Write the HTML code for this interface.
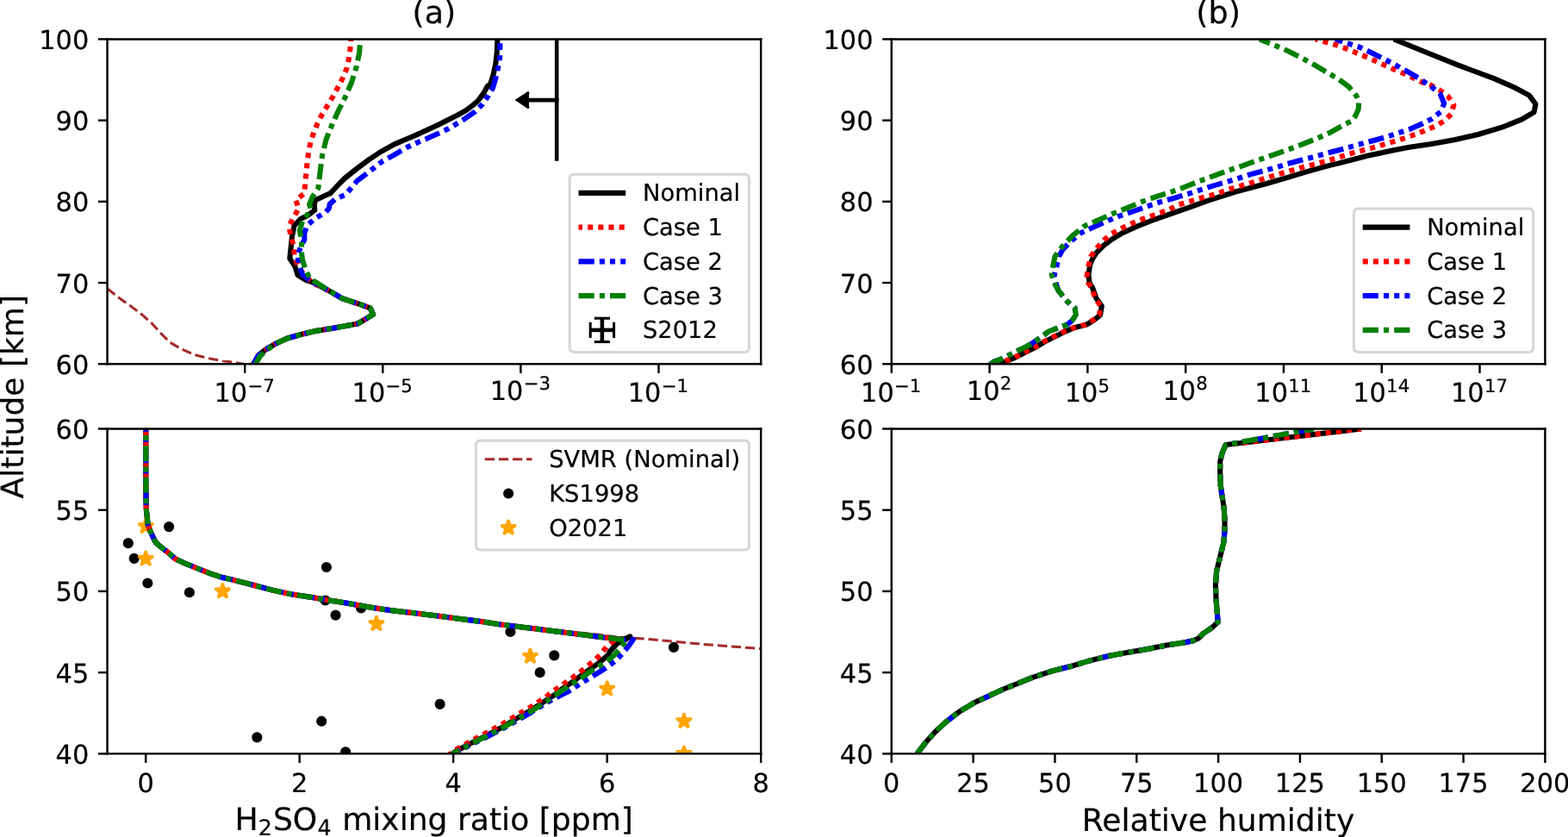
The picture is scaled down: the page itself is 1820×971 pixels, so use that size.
<!DOCTYPE html>
<html><head><meta charset="utf-8"><title>figure</title>
<style>html,body{margin:0;padding:0;background:#fff;overflow:hidden}svg{display:block}
text{font-family:"DejaVu Sans","Liberation Sans",sans-serif;text-rendering:geometricPrecision;stroke:#000;stroke-width:0.07px}</style></head>
<body>
<svg width="1820" height="971" viewBox="0 0 598.684211 319.407895" version="1.1">
 
 <defs>
  <style type="text/css">*{stroke-linejoin: round; stroke-linecap: butt}</style>
 </defs>
 <g id="figure_1">
  <g id="patch_1">
   <path d="M 0 319.407895 
L 598.684211 319.407895 
L 598.684211 0 
L 0 0 
z
" style="fill: #ffffff"/>
  </g>
  <g id="axes_1">
   <g id="patch_2">
    <path d="M 40.970395 138.898026 
L 290.526316 138.898026 
L 290.526316 14.950658 
L 40.970395 14.950658 
z
" style="fill: #ffffff"/>
   </g>
   <g id="line2d_1">
    <path d="M 40.953947 110.098684 
L 45.427632 113.651316 
L 49.901316 116.809211 
L 54.375 120.164474 
L 58.092105 123.519737 
L 61.085526 126.875 
L 64.802632 130.592105 
L 69.276316 133.223684 
L 74.506579 135.460526 
L 79.703947 136.743421 
L 84.934211 137.697368 
L 89.407895 138.256579 
L 92.401316 138.815789 
L 95.394737 139.309211 
" clip-path="url(#pc3fd6369af)" style="fill: none; stroke-dasharray: 3.7,1.6; stroke-dashoffset: 0; stroke: #a52a2a"/>
   </g>
   <g id="matplotlib.axis_1">
    <g id="xtick_1">
     <g id="line2d_2">
      
      <g>
       <path d="M 0 0 L 0 3.5" transform="translate(93.486813 138.898026)" style="stroke: #000000; stroke-width: 0.8; stroke: #000000; stroke-width: 0.8"/>
      </g>
     </g>
     <g id="text_1">
      
      <g transform="translate(81.736813 153.496464)">
       <text>
        <tspan x="0" y="-0.064063" style="font-size: 10px; font-family: 'DejaVu Sans', 'Liberation Sans', sans-serif">1</tspan>
        <tspan x="6.362305" y="-0.064063" style="font-size: 10px; font-family: 'DejaVu Sans', 'Liberation Sans', sans-serif">0</tspan>
        <tspan x="12.820312" y="-3.892188" style="font-size: 7px; font-family: 'DejaVu Sans', 'Liberation Sans', sans-serif">−</tspan>
        <tspan x="18.685547" y="-3.892188" style="font-size: 7px; font-family: 'DejaVu Sans', 'Liberation Sans', sans-serif">7</tspan>
       </text>
      </g>
     </g>
    </g>
    <g id="xtick_2">
     <g id="line2d_3">
      <g>
       <path d="M 0 0 L 0 3.5" transform="translate(146.15094 138.898026)" style="stroke: #000000; stroke-width: 0.8; stroke: #000000; stroke-width: 0.8"/>
      </g>
     </g>
     <g id="text_2">
      
      <g transform="translate(134.40094 153.496464)">
       <text>
        <tspan x="0" y="-0.064063" style="font-size: 10px; font-family: 'DejaVu Sans', 'Liberation Sans', sans-serif">1</tspan>
        <tspan x="6.362305" y="-0.064063" style="font-size: 10px; font-family: 'DejaVu Sans', 'Liberation Sans', sans-serif">0</tspan>
        <tspan x="12.820312" y="-3.892188" style="font-size: 7px; font-family: 'DejaVu Sans', 'Liberation Sans', sans-serif">−</tspan>
        <tspan x="18.685547" y="-3.892188" style="font-size: 7px; font-family: 'DejaVu Sans', 'Liberation Sans', sans-serif">5</tspan>
       </text>
      </g>
     </g>
    </g>
    <g id="xtick_3">
     <g id="line2d_4">
      <g>
       <path d="M 0 0 L 0 3.5" transform="translate(198.815067 138.898026)" style="stroke: #000000; stroke-width: 0.8; stroke: #000000; stroke-width: 0.8"/>
      </g>
     </g>
     <g id="text_3">
      
      <g transform="translate(187.065067 153.496464)">
       <text>
        <tspan x="0" y="-0.976562" style="font-size: 10px; font-family: 'DejaVu Sans', 'Liberation Sans', sans-serif">1</tspan>
        <tspan x="6.362305" y="-0.976562" style="font-size: 10px; font-family: 'DejaVu Sans', 'Liberation Sans', sans-serif">0</tspan>
        <tspan x="12.820312" y="-4.804688" style="font-size: 7px; font-family: 'DejaVu Sans', 'Liberation Sans', sans-serif">−</tspan>
        <tspan x="18.685547" y="-4.804688" style="font-size: 7px; font-family: 'DejaVu Sans', 'Liberation Sans', sans-serif">3</tspan>
       </text>
      </g>
     </g>
    </g>
    <g id="xtick_4">
     <g id="line2d_5">
      <g>
       <path d="M 0 0 L 0 3.5" transform="translate(251.479194 138.898026)" style="stroke: #000000; stroke-width: 0.8; stroke: #000000; stroke-width: 0.8"/>
      </g>
     </g>
     <g id="text_4">
      
      <g transform="translate(239.729194 153.496464)">
       <text>
        <tspan x="0" y="-0.064063" style="font-size: 10px; font-family: 'DejaVu Sans', 'Liberation Sans', sans-serif">1</tspan>
        <tspan x="6.362305" y="-0.064063" style="font-size: 10px; font-family: 'DejaVu Sans', 'Liberation Sans', sans-serif">0</tspan>
        <tspan x="12.820312" y="-3.892188" style="font-size: 7px; font-family: 'DejaVu Sans', 'Liberation Sans', sans-serif">−</tspan>
        <tspan x="18.685547" y="-3.892188" style="font-size: 7px; font-family: 'DejaVu Sans', 'Liberation Sans', sans-serif">1</tspan>
       </text>
      </g>
     </g>
    </g>
   </g>
   <g id="matplotlib.axis_2">
    <g id="ytick_1">
     <g id="line2d_6">
      
      <g>
       <path d="M 0 0 L -3.5 0" transform="translate(40.970395 138.898026)" style="stroke: #000000; stroke-width: 0.8; stroke: #000000; stroke-width: 0.8"/>
      </g>
     </g>
     <g id="text_5">
      <text style="font-size: 10px; font-family: 'DejaVu Sans', 'Liberation Sans', sans-serif; text-anchor: end" x="33.970395" y="142.697245" transform="rotate(-0 33.970395 142.697245)">60</text>
     </g>
    </g>
    <g id="ytick_2">
     <g id="line2d_7">
      <g>
       <path d="M 0 0 L -3.5 0" transform="translate(40.970395 107.911184)" style="stroke: #000000; stroke-width: 0.8; stroke: #000000; stroke-width: 0.8"/>
      </g>
     </g>
     <g id="text_6">
      <text style="font-size: 10px; font-family: 'DejaVu Sans', 'Liberation Sans', sans-serif; text-anchor: end" x="33.970395" y="111.710403" transform="rotate(-0 33.970395 111.710403)">70</text>
     </g>
    </g>
    <g id="ytick_3">
     <g id="line2d_8">
      <g>
       <path d="M 0 0 L -3.5 0" transform="translate(40.970395 76.924342)" style="stroke: #000000; stroke-width: 0.8; stroke: #000000; stroke-width: 0.8"/>
      </g>
     </g>
     <g id="text_7">
      <text style="font-size: 10px; font-family: 'DejaVu Sans', 'Liberation Sans', sans-serif; text-anchor: end" x="33.970395" y="80.723561" transform="rotate(-0 33.970395 80.723561)">80</text>
     </g>
    </g>
    <g id="ytick_4">
     <g id="line2d_9">
      <g>
       <path d="M 0 0 L -3.5 0" transform="translate(40.970395 45.9375)" style="stroke: #000000; stroke-width: 0.8; stroke: #000000; stroke-width: 0.8"/>
      </g>
     </g>
     <g id="text_8">
      <text style="font-size: 10px; font-family: 'DejaVu Sans', 'Liberation Sans', sans-serif; text-anchor: end" x="33.970395" y="49.736719" transform="rotate(-0 33.970395 49.736719)">90</text>
     </g>
    </g>
    <g id="ytick_5">
     <g id="line2d_10">
      <g>
       <path d="M 0 0 L -3.5 0" transform="translate(40.970395 14.950658)" style="stroke: #000000; stroke-width: 0.8; stroke: #000000; stroke-width: 0.8"/>
      </g>
     </g>
     <g id="text_9">
      <text style="font-size: 10px; font-family: 'DejaVu Sans', 'Liberation Sans', sans-serif; text-anchor: end" x="33.970395" y="18.749877" transform="rotate(-0 33.970395 18.749877)">100</text>
     </g>
    </g>
   </g>
   <g id="line2d_11">
    <path d="M 96.546053 139.473684 
L 96.842105 138.782895 
L 98.519737 135.822368 
L 101.118421 133.585526 
L 104.835526 131.348684 
L 109.671053 129.111842 
L 114.901316 127.631579 
L 120.493421 126.315789 
L 126.085526 125.394737 
L 131.677632 124.440789 
L 136.513158 123.519737 
L 139.111842 122.039474 
L 142.467105 119.967105 
L 141.348684 117.565789 
L 137.269737 116.085526 
L 130.559211 113.848684 
L 126.085526 111.217105 
L 119.736842 107.861842 
L 116.480263 106.743421 
L 113.684211 104.967105 
L 112.664474 101.677632 
L 110.625 98.618421 
L 111.118421 94.046053 
L 111.513158 90.230263 
L 112.335526 86.184211 
L 114.736842 83.585526 
L 117.467105 82.236842 
L 120.164474 80.197368 
L 120 77.828947 
L 120.493421 76.315789 
L 126.085526 73.782895 
L 128.980263 70.723684 
L 131.578947 68.092105 
L 136.315789 64.309211 
L 141.052632 60.756579 
L 145.822368 57.664474 
L 150.559211 55.065789 
L 155.296053 53.026316 
L 160.032895 51.019737 
L 163.815789 49.243421 
L 167.368421 47.598684 
L 170.953947 45.822368 
L 174.506579 44.046053 
L 178.059211 42.039474 
L 180.427632 40.263158 
L 182.796053 38.125 
L 184.703947 35.493421 
L 186.118421 32.894737 
L 187.203947 32.105263 
L 188.388158 28.388158 
L 189.243421 24.342105 
L 189.736842 19.934211 
L 189.934211 15.197368 
L 189.934211 14.473684 
" clip-path="url(#pc3fd6369af)" style="fill: none; stroke: #000000; stroke-width: 2"/>
   </g>
   <g id="line2d_12">
    <path d="M 96.546053 139.473684 
L 96.842105 138.782895 
L 98.519737 135.822368 
L 101.118421 133.585526 
L 104.835526 131.348684 
L 109.671053 129.111842 
L 114.901316 127.631579 
L 120.493421 126.315789 
L 126.085526 125.394737 
L 131.677632 124.440789 
L 136.513158 123.519737 
L 139.111842 122.039474 
L 142.467105 119.967105 
L 141.348684 117.565789 
L 137.269737 116.085526 
L 130.559211 113.848684 
L 126.085526 111.217105 
L 119.013158 107.763158 
L 115.197368 103.684211 
L 113.684211 101.151316 
L 112.401316 97.993421 
L 112.138158 93.782895 
L 111.019737 90.098684 
L 110.361842 86.184211 
L 112.203947 82.763158 
L 114.078947 79.539474 
L 112.894737 76.315789 
L 116.085526 73.947368 
L 116.513158 70.394737 
L 116.940789 65.789474 
L 117.302632 61.940789 
L 117.828947 58.157895 
L 118.552632 54.342105 
L 119.802632 50.559211 
L 121.25 47.039474 
L 123.026316 43.519737 
L 125.065789 40.263158 
L 127.039474 37.006579 
L 128.947368 33.486842 
L 130.756579 29.967105 
L 132.368421 26.184211 
L 133.190789 22.368421 
L 133.717105 18.585526 
L 133.980263 15.065789 
L 133.980263 14.473684 
" clip-path="url(#pc3fd6369af)" style="fill: none; stroke-dasharray: 2,2; stroke-dashoffset: 0.5; stroke: #ff0000; stroke-width: 2"/>
   </g>
   <g id="line2d_13">
    <path d="M 96.546053 139.473684 
L 96.842105 138.782895 
L 98.519737 135.822368 
L 101.118421 133.585526 
L 104.835526 131.348684 
L 109.671053 129.111842 
L 114.901316 127.631579 
L 120.493421 126.315789 
L 126.085526 125.394737 
L 131.677632 124.440789 
L 136.513158 123.519737 
L 139.111842 122.039474 
L 142.467105 119.967105 
L 141.348684 117.565789 
L 137.269737 116.085526 
L 130.559211 113.848684 
L 126.085526 111.217105 
L 119.736842 107.861842 
L 117.993421 106.743421 
L 115.460526 104.703947 
L 113.914474 100.657895 
L 113.684211 97.105263 
L 115.065789 93.519737 
L 116.217105 91.513158 
L 116.217105 88.947368 
L 117.467105 85.789474 
L 120.328947 83.421053 
L 124.407895 80.888158 
L 125.592105 79.539474 
L 125.921053 77.828947 
L 128.289474 75.789474 
L 132.006579 74.276316 
L 136.315789 69.046053 
L 141.052632 65.493421 
L 145.822368 61.677632 
L 150.559211 59.078947 
L 155.296053 56.25 
L 160.032895 54.111842 
L 162.631579 53.059211 
L 167.861842 50.690789 
L 171.414474 49.013158 
L 176.875 45.690789 
L 181.381579 42.631579 
L 184.210526 39.769737 
L 186.348684 36.677632 
L 188.256579 33.355263 
L 189.407895 29.243421 
L 190.263158 25.361842 
L 190.855263 21.611842 
L 190.921053 16.546053 
" clip-path="url(#pc3fd6369af)" style="fill: none; stroke-dasharray: 6,2,2,2,2,2; stroke-dashoffset: 0; stroke: #0000ff; stroke-width: 2"/>
   </g>
   <g id="line2d_14">
    <path d="M 97.368421 139.473684 
L 97.664474 138.782895 
L 99.342105 135.822368 
L 101.940789 133.585526 
L 104.835526 131.348684 
L 109.671053 129.111842 
L 114.901316 127.631579 
L 120.493421 126.315789 
L 126.085526 125.394737 
L 131.677632 124.440789 
L 136.513158 123.519737 
L 139.111842 122.039474 
L 142.467105 119.967105 
L 141.348684 117.565789 
L 137.269737 116.085526 
L 130.559211 113.848684 
L 126.085526 111.217105 
L 118.256579 106.25 
L 116.578947 102.664474 
L 115.460526 99.111842 
L 115.065789 95.822368 
L 115.197368 92.006579 
L 114.440789 87.960526 
L 115.460526 84.539474 
L 117.467105 81.743421 
L 118.651316 79.703947 
L 118.125 77.993421 
L 119.309211 75.131579 
L 121.513158 71.743421 
L 121.842105 69.078947 
L 122.335526 64.671053 
L 123.059211 59.243421 
L 124.506579 53.289474 
L 126.677632 47.861842 
L 129.111842 42.434211 
L 131.842105 37.006579 
L 134.276316 31.315789 
L 136.052632 25.625 
L 137.236842 19.934211 
L 137.5 15.328947 
L 137.5 14.473684 
" clip-path="url(#pc3fd6369af)" style="fill: none; stroke-dasharray: 6,2,2,2; stroke-dashoffset: 0; stroke: #008000; stroke-width: 2"/>
   </g>
   <g id="line2d_15">
    <path d="M 212.565789 61.430921 
L 212.565789 11.851974 
" clip-path="url(#pc3fd6369af)" style="fill: none; stroke: #000000; stroke-width: 1.5"/>
   </g>
   <g id="line2d_16">
    <path d="M 201.973684 38.190789 
L 212.565789 38.190789 
" clip-path="url(#pc3fd6369af)" style="fill: none; stroke: #000000; stroke-width: 1.5; stroke-linecap: square"/>
   </g>
   <g id="line2d_17">
    
    <g clip-path="url(#pc3fd6369af)">
     <path d="M 0 -3 L -4.5 -0 L -0 3" transform="translate(201.973684 38.190789)" style="stroke: #000000; stroke-linejoin: miter; stroke: #000000; stroke-linejoin: miter"/>
    </g>
   </g>
   <g id="LineCollection_1">
    <path clip-path="url(#pc3fd6369af)" style="fill: none; stroke: #000000; stroke-width: 1.5"/>
   </g>
   <g id="LineCollection_2">
    <path clip-path="url(#pc3fd6369af)" style="fill: none; stroke: #000000; stroke-width: 1.5"/>
   </g>
   <g id="line2d_18">
    
    <g clip-path="url(#pc3fd6369af)"/>
   </g>
   <g id="line2d_19">
    <g clip-path="url(#pc3fd6369af)"/>
   </g>
   <g id="line2d_20">
    
    <g clip-path="url(#pc3fd6369af)"/>
   </g>
   <g id="line2d_21">
    <g clip-path="url(#pc3fd6369af)"/>
   </g>
   <g id="patch_3">
    <path d="M 40.970395 138.898026 
L 40.970395 14.950658 
" style="fill: none; stroke: #000000; stroke-width: 0.8; stroke-linejoin: miter; stroke-linecap: square"/>
   </g>
   <g id="patch_4">
    <path d="M 290.526316 138.898026 
L 290.526316 14.950658 
" style="fill: none; stroke: #000000; stroke-width: 0.8; stroke-linejoin: miter; stroke-linecap: square"/>
   </g>
   <g id="patch_5">
    <path d="M 40.970395 138.898026 
L 290.526316 138.898026 
" style="fill: none; stroke: #000000; stroke-width: 0.8; stroke-linejoin: miter; stroke-linecap: square"/>
   </g>
   <g id="patch_6">
    <path d="M 40.970395 14.950658 
L 290.526316 14.950658 
" style="fill: none; stroke: #000000; stroke-width: 0.8; stroke-linejoin: miter; stroke-linecap: square"/>
   </g>
   <g id="text_10">
    <text style="font-size: 12px; font-family: 'DejaVu Sans', 'Liberation Sans', sans-serif; text-anchor: middle" x="165.748355" y="8.950658" transform="rotate(-0 165.748355 8.950658)">(a)</text>
   </g>
   <g id="legend_1">
    <g id="patch_7">
     <path d="M 219.280066 134.398026 
L 284.226316 134.398026 
Q 286.026316 134.398026 286.026316 132.598026 
L 286.026316 68.346464 
Q 286.026316 66.546464 284.226316 66.546464 
L 219.280066 66.546464 
Q 217.480066 66.546464 217.480066 68.346464 
L 217.480066 132.598026 
Q 217.480066 134.398026 219.280066 134.398026 
z
" style="fill: #ffffff; opacity: 0.8; stroke: #cccccc; stroke-linejoin: miter"/>
    </g>
    <g id="line2d_22">
     <path d="M 220.900066 73.655058 
L 229.900066 73.655058 
L 238.900066 73.655058 
" style="fill: none; stroke: #000000; stroke-width: 2"/>
    </g>
    <g id="text_11">
     <text style="font-size: 9px; font-family: 'DejaVu Sans', 'Liberation Sans', sans-serif; text-anchor: start" x="245.380066" y="76.805058" transform="rotate(-0 245.380066 76.805058)">Nominal</text>
    </g>
    <g id="line2d_23">
     <path d="M 220.900066 86.73037 
L 229.900066 86.73037 
L 238.900066 86.73037 
" style="fill: none; stroke-dasharray: 2,2; stroke-dashoffset: 0.5; stroke: #ff0000; stroke-width: 2"/>
    </g>
    <g id="text_12">
     <text style="font-size: 9px; font-family: 'DejaVu Sans', 'Liberation Sans', sans-serif; text-anchor: start" x="245.380066" y="89.88037" transform="rotate(-0 245.380066 89.88037)">Case 1</text>
    </g>
    <g id="line2d_24">
     <path d="M 220.900066 99.805683 
L 229.900066 99.805683 
L 238.900066 99.805683 
" style="fill: none; stroke-dasharray: 6,2,2,2,2,2; stroke-dashoffset: 0; stroke: #0000ff; stroke-width: 2"/>
    </g>
    <g id="text_13">
     <text style="font-size: 9px; font-family: 'DejaVu Sans', 'Liberation Sans', sans-serif; text-anchor: start" x="245.380066" y="102.955683" transform="rotate(-0 245.380066 102.955683)">Case 2</text>
    </g>
    <g id="line2d_25">
     <path d="M 220.900066 112.880995 
L 229.900066 112.880995 
L 238.900066 112.880995 
" style="fill: none; stroke-dasharray: 6,2,2,2; stroke-dashoffset: 0; stroke: #008000; stroke-width: 2"/>
    </g>
    <g id="text_14">
     <text style="font-size: 9px; font-family: 'DejaVu Sans', 'Liberation Sans', sans-serif; text-anchor: start" x="245.380066" y="116.030995" transform="rotate(-0 245.380066 116.030995)">Case 3</text>
    </g>
    <g id="LineCollection_3">
     <path d="M 225.400066 125.956308 
L 234.400066 125.956308 
" style="fill: none; stroke: #000000; stroke-width: 1.5"/>
    </g>
    <g id="LineCollection_4">
     <path d="M 229.900066 130.456308 
L 229.900066 121.456308 
" style="fill: none; stroke: #000000; stroke-width: 1.5"/>
    </g>
    <g id="line2d_26">
     <g>
      <path d="M 0 3 L 0 -3" transform="translate(225.400066 125.956308)" style="stroke: #000000; fill: #1f77b4; stroke: #000000"/>
     </g>
    </g>
    <g id="line2d_27">
     <g>
      <path d="M 0 3 L 0 -3" transform="translate(234.400066 125.956308)" style="stroke: #000000; fill: #1f77b4; stroke: #000000"/>
     </g>
    </g>
    <g id="line2d_28">
     <g>
      <path d="M 3 0 L -3 -0" transform="translate(229.900066 130.456308)" style="stroke: #000000; fill: #1f77b4; stroke: #000000"/>
     </g>
    </g>
    <g id="line2d_29">
     <g>
      <path d="M 3 0 L -3 -0" transform="translate(229.900066 121.456308)" style="stroke: #000000; fill: #1f77b4; stroke: #000000"/>
     </g>
    </g>
    <g id="text_15">
     <text style="font-size: 9px; font-family: 'DejaVu Sans', 'Liberation Sans', sans-serif; text-anchor: start" x="245.380066" y="129.106308" transform="rotate(-0 245.380066 129.106308)">S2012</text>
    </g>
   </g>
  </g>
  <g id="axes_2">
   <g id="patch_8">
    <path d="M 340.394737 138.898026 
L 589.934211 138.898026 
L 589.934211 14.950658 
L 340.394737 14.950658 
z
" style="fill: #ffffff"/>
   </g>
   <g id="matplotlib.axis_3">
    <g id="xtick_5">
     <g id="line2d_30">
      <g>
       <path d="M 0 0 L 0 3.5" transform="translate(340.394737 138.898026)" style="stroke: #000000; stroke-width: 0.8; stroke: #000000; stroke-width: 0.8"/>
      </g>
     </g>
     <g id="text_16">
      
      <g transform="translate(328.644737 153.496464)">
       <text>
        <tspan x="0" y="-0.064063" style="font-size: 10px; font-family: 'DejaVu Sans', 'Liberation Sans', sans-serif">1</tspan>
        <tspan x="6.362305" y="-0.064063" style="font-size: 10px; font-family: 'DejaVu Sans', 'Liberation Sans', sans-serif">0</tspan>
        <tspan x="12.820312" y="-3.892188" style="font-size: 7px; font-family: 'DejaVu Sans', 'Liberation Sans', sans-serif">−</tspan>
        <tspan x="18.685547" y="-3.892188" style="font-size: 7px; font-family: 'DejaVu Sans', 'Liberation Sans', sans-serif">1</tspan>
       </text>
      </g>
     </g>
    </g>
    <g id="xtick_6">
     <g id="line2d_31">
      <g>
       <path d="M 0 0 L 0 3.5" transform="translate(377.825658 138.898026)" style="stroke: #000000; stroke-width: 0.8; stroke: #000000; stroke-width: 0.8"/>
      </g>
     </g>
     <g id="text_17">
      
      <g transform="translate(369.025658 153.496464)">
       <text>
        <tspan x="0" y="-0.976562" style="font-size: 10px; font-family: 'DejaVu Sans', 'Liberation Sans', sans-serif">1</tspan>
        <tspan x="6.362305" y="-0.976562" style="font-size: 10px; font-family: 'DejaVu Sans', 'Liberation Sans', sans-serif">0</tspan>
        <tspan x="12.820312" y="-4.804688" style="font-size: 7px; font-family: 'DejaVu Sans', 'Liberation Sans', sans-serif">2</tspan>
       </text>
      </g>
     </g>
    </g>
    <g id="xtick_7">
     <g id="line2d_32">
      <g>
       <path d="M 0 0 L 0 3.5" transform="translate(415.256579 138.898026)" style="stroke: #000000; stroke-width: 0.8; stroke: #000000; stroke-width: 0.8"/>
      </g>
     </g>
     <g id="text_18">
      
      <g transform="translate(406.456579 153.496464)">
       <text>
        <tspan x="0" y="-0.064063" style="font-size: 10px; font-family: 'DejaVu Sans', 'Liberation Sans', sans-serif">1</tspan>
        <tspan x="6.362305" y="-0.064063" style="font-size: 10px; font-family: 'DejaVu Sans', 'Liberation Sans', sans-serif">0</tspan>
        <tspan x="12.820312" y="-3.892188" style="font-size: 7px; font-family: 'DejaVu Sans', 'Liberation Sans', sans-serif">5</tspan>
       </text>
      </g>
     </g>
    </g>
    <g id="xtick_8">
     <g id="line2d_33">
      <g>
       <path d="M 0 0 L 0 3.5" transform="translate(452.6875 138.898026)" style="stroke: #000000; stroke-width: 0.8; stroke: #000000; stroke-width: 0.8"/>
      </g>
     </g>
     <g id="text_19">
      
      <g transform="translate(443.8875 153.496464)">
       <text>
        <tspan x="0" y="-0.976562" style="font-size: 10px; font-family: 'DejaVu Sans', 'Liberation Sans', sans-serif">1</tspan>
        <tspan x="6.362305" y="-0.976562" style="font-size: 10px; font-family: 'DejaVu Sans', 'Liberation Sans', sans-serif">0</tspan>
        <tspan x="12.820312" y="-4.804688" style="font-size: 7px; font-family: 'DejaVu Sans', 'Liberation Sans', sans-serif">8</tspan>
       </text>
      </g>
     </g>
    </g>
    <g id="xtick_9">
     <g id="line2d_34">
      <g>
       <path d="M 0 0 L 0 3.5" transform="translate(490.118421 138.898026)" style="stroke: #000000; stroke-width: 0.8; stroke: #000000; stroke-width: 0.8"/>
      </g>
     </g>
     <g id="text_20">
      
      <g transform="translate(479.068421 153.496464)">
       <text>
        <tspan x="0" y="-0.064063" style="font-size: 10px; font-family: 'DejaVu Sans', 'Liberation Sans', sans-serif">1</tspan>
        <tspan x="6.362305" y="-0.064063" style="font-size: 10px; font-family: 'DejaVu Sans', 'Liberation Sans', sans-serif">0</tspan>
        <tspan x="12.820312" y="-3.892188" style="font-size: 7px; font-family: 'DejaVu Sans', 'Liberation Sans', sans-serif">1</tspan>
        <tspan x="17.273926" y="-3.892188" style="font-size: 7px; font-family: 'DejaVu Sans', 'Liberation Sans', sans-serif">1</tspan>
       </text>
      </g>
     </g>
    </g>
    <g id="xtick_10">
     <g id="line2d_35">
      <g>
       <path d="M 0 0 L 0 3.5" transform="translate(527.549342 138.898026)" style="stroke: #000000; stroke-width: 0.8; stroke: #000000; stroke-width: 0.8"/>
      </g>
     </g>
     <g id="text_21">
      
      <g transform="translate(516.499342 153.496464)">
       <text>
        <tspan x="0" y="-0.064063" style="font-size: 10px; font-family: 'DejaVu Sans', 'Liberation Sans', sans-serif">1</tspan>
        <tspan x="6.362305" y="-0.064063" style="font-size: 10px; font-family: 'DejaVu Sans', 'Liberation Sans', sans-serif">0</tspan>
        <tspan x="12.820312" y="-3.892188" style="font-size: 7px; font-family: 'DejaVu Sans', 'Liberation Sans', sans-serif">1</tspan>
        <tspan x="17.273926" y="-3.892188" style="font-size: 7px; font-family: 'DejaVu Sans', 'Liberation Sans', sans-serif">4</tspan>
       </text>
      </g>
     </g>
    </g>
    <g id="xtick_11">
     <g id="line2d_36">
      <g>
       <path d="M 0 0 L 0 3.5" transform="translate(564.980263 138.898026)" style="stroke: #000000; stroke-width: 0.8; stroke: #000000; stroke-width: 0.8"/>
      </g>
     </g>
     <g id="text_22">
      
      <g transform="translate(553.930263 153.496464)">
       <text>
        <tspan x="0" y="-0.064063" style="font-size: 10px; font-family: 'DejaVu Sans', 'Liberation Sans', sans-serif">1</tspan>
        <tspan x="6.362305" y="-0.064063" style="font-size: 10px; font-family: 'DejaVu Sans', 'Liberation Sans', sans-serif">0</tspan>
        <tspan x="12.820312" y="-3.892188" style="font-size: 7px; font-family: 'DejaVu Sans', 'Liberation Sans', sans-serif">1</tspan>
        <tspan x="17.273926" y="-3.892188" style="font-size: 7px; font-family: 'DejaVu Sans', 'Liberation Sans', sans-serif">7</tspan>
       </text>
      </g>
     </g>
    </g>
   </g>
   <g id="matplotlib.axis_4">
    <g id="ytick_6">
     <g id="line2d_37">
      <g>
       <path d="M 0 0 L -3.5 0" transform="translate(340.394737 138.898026)" style="stroke: #000000; stroke-width: 0.8; stroke: #000000; stroke-width: 0.8"/>
      </g>
     </g>
     <g id="text_23">
      <text style="font-size: 10px; font-family: 'DejaVu Sans', 'Liberation Sans', sans-serif; text-anchor: end" x="333.394737" y="142.697245" transform="rotate(-0 333.394737 142.697245)">60</text>
     </g>
    </g>
    <g id="ytick_7">
     <g id="line2d_38">
      <g>
       <path d="M 0 0 L -3.5 0" transform="translate(340.394737 107.911184)" style="stroke: #000000; stroke-width: 0.8; stroke: #000000; stroke-width: 0.8"/>
      </g>
     </g>
     <g id="text_24">
      <text style="font-size: 10px; font-family: 'DejaVu Sans', 'Liberation Sans', sans-serif; text-anchor: end" x="333.394737" y="111.710403" transform="rotate(-0 333.394737 111.710403)">70</text>
     </g>
    </g>
    <g id="ytick_8">
     <g id="line2d_39">
      <g>
       <path d="M 0 0 L -3.5 0" transform="translate(340.394737 76.924342)" style="stroke: #000000; stroke-width: 0.8; stroke: #000000; stroke-width: 0.8"/>
      </g>
     </g>
     <g id="text_25">
      <text style="font-size: 10px; font-family: 'DejaVu Sans', 'Liberation Sans', sans-serif; text-anchor: end" x="333.394737" y="80.723561" transform="rotate(-0 333.394737 80.723561)">80</text>
     </g>
    </g>
    <g id="ytick_9">
     <g id="line2d_40">
      <g>
       <path d="M 0 0 L -3.5 0" transform="translate(340.394737 45.9375)" style="stroke: #000000; stroke-width: 0.8; stroke: #000000; stroke-width: 0.8"/>
      </g>
     </g>
     <g id="text_26">
      <text style="font-size: 10px; font-family: 'DejaVu Sans', 'Liberation Sans', sans-serif; text-anchor: end" x="333.394737" y="49.736719" transform="rotate(-0 333.394737 49.736719)">90</text>
     </g>
    </g>
    <g id="ytick_10">
     <g id="line2d_41">
      <g>
       <path d="M 0 0 L -3.5 0" transform="translate(340.394737 14.950658)" style="stroke: #000000; stroke-width: 0.8; stroke: #000000; stroke-width: 0.8"/>
      </g>
     </g>
     <g id="text_27">
      <text style="font-size: 10px; font-family: 'DejaVu Sans', 'Liberation Sans', sans-serif; text-anchor: end" x="333.394737" y="18.749877" transform="rotate(-0 333.394737 18.749877)">100</text>
     </g>
    </g>
   </g>
   <g id="line2d_42">
    <path d="M 380.592105 139.473684 
L 381.348684 138.980263 
L 383.585526 138.059211 
L 387.302632 136.578947 
L 391.776316 134.342105 
L 395.493421 132.467105 
L 399.210526 130.230263 
L 402.960526 128.355263 
L 406.677632 126.513158 
L 410.394737 125 
L 414.868421 123.881579 
L 417.861842 122.039474 
L 420.098684 120.164474 
L 420.657895 116.809211 
L 418.585526 113.848684 
L 417.105263 109.736842 
L 415.953947 107.894737 
L 415.592105 104.868421 
L 416.217105 100.888158 
L 417.203947 98.684211 
L 418.585526 96.480263 
L 421.282895 93.75 
L 424.539474 91.315789 
L 428.585526 88.881579 
L 434.013158 86.447368 
L 439.440789 84.276316 
L 444.868421 82.368421 
L 450.263158 80.493421 
L 455.690789 78.585526 
L 460.526316 76.743421 
L 471.710526 73.190789 
L 483.552632 70.065789 
L 491.677632 67.697368 
L 499.802632 65.263158 
L 507.960526 63.026316 
L 510.855263 62.368421 
L 521.710526 59.539474 
L 532.5 57.236842 
L 538.125 56.184211 
L 546.052632 55 
L 555.263158 53.388158 
L 564.342105 51.315789 
L 573.486842 48.585526 
L 581.118421 45.526316 
L 585.690789 42.796053 
L 586.315789 39.736842 
L 583.881579 36.381579 
L 578.059211 33.322368 
L 570.460526 29.967105 
L 561.907895 26.809211 
L 556.578947 24.802632 
L 544.375 19.901316 
L 532.171053 14.950658 
" clip-path="url(#pd792279210)" style="fill: none; stroke: #000000; stroke-width: 2"/>
   </g>
   <g id="line2d_43">
    <path d="M 380.197368 139.473684 
L 380.953947 138.980263 
L 383.190789 138.059211 
L 386.907895 136.578947 
L 391.381579 134.342105 
L 395.098684 132.467105 
L 398.815789 130.230263 
L 402.565789 128.355263 
L 406.282895 126.513158 
L 410 125 
L 414.473684 123.881579 
L 417.467105 122.039474 
L 419.703947 120.164474 
L 420.263158 116.809211 
L 418.190789 113.848684 
L 416.710526 109.736842 
L 415.460526 107.894737 
L 415 105.164474 
L 415.592105 101.513158 
L 416.513158 97.861842 
L 418.848684 94.572368 
L 421.546053 91.578947 
L 424.539474 89.144737 
L 428.059211 87.236842 
L 431.578947 85.493421 
L 435.098684 84.013158 
L 438.914474 82.631579 
L 442.434211 81.414474 
L 446.217105 80.065789 
L 449.934211 78.092105 
L 453.651316 77.072368 
L 457.368421 75.888158 
L 461.118421 74.868421 
L 465 73.848684 
L 468.651316 72.401316 
L 476.25 70.230263 
L 483.815789 67.796053 
L 491.151316 65.625 
L 498.717105 63.453947 
L 502.697368 62.5 
L 510.296053 60.328947 
L 517.763158 57.960526 
L 521.644737 57.039474 
L 525.328947 56.052632 
L 529.243421 54.868421 
L 532.927632 53.782895 
L 536.611842 52.598684 
L 540.296053 51.282895 
L 543.980263 49.868421 
L 547.697368 48.289474 
L 551.25 46.282895 
L 554.078947 43.552632 
L 555.065789 40.032895 
L 552.927632 36.842105 
L 549.506579 34.243421 
L 546.217105 32.434211 
L 542.532895 31.184211 
L 538.881579 29.375 
L 535.526316 27.828947 
L 531.875 26.315789 
L 528.519737 24.802632 
L 524.473684 22.960526 
L 521.315789 21.578947 
L 517.664474 20.065789 
L 513.980263 18.552632 
L 510.197368 17.171053 
L 506.381579 16.118421 
L 502.302632 14.950658 
" clip-path="url(#pd792279210)" style="fill: none; stroke-dasharray: 2,2; stroke-dashoffset: 0; stroke: #ff0000; stroke-width: 2"/>
   </g>
   <g id="line2d_44">
    <path d="M 377.631579 139.473684 
L 378.289474 138.980263 
L 379.473684 138.059211 
L 382.467105 136.940789 
L 386.184211 135.065789 
L 389.901316 133.223684 
L 393.618421 131.348684 
L 397.368421 128.75 
L 400.328947 126.513158 
L 403.322368 125.394737 
L 407.434211 123.881579 
L 409.276316 122.401316 
L 410.789474 120.164474 
L 410.394737 117.565789 
L 407.434211 114.967105 
L 404.078947 110.855263 
L 403.125 107.894737 
L 402.5 105.164474 
L 403.552632 101.217105 
L 404.309211 97.861842 
L 405.855263 95.098684 
L 408.881579 92.072368 
L 412.532895 89.013158 
L 418.421053 86.217105 
L 423.190789 84.144737 
L 426.973684 82.631579 
L 432.401316 80.756579 
L 437.828947 78.848684 
L 441.611842 77.467105 
L 447.236842 75.888158 
L 452.993421 74.177632 
L 456.710526 72.993421 
L 462.302632 71.151316 
L 471.907895 68.355263 
L 477.335526 66.578947 
L 486.809211 64.013158 
L 492.5 62.236842 
L 498.190789 60.756579 
L 501.907895 59.802632 
L 507.861842 58.157895 
L 513.552632 56.677632 
L 517.105263 55.625 
L 522.960526 54.013158 
L 528.585526 52.5 
L 532.269737 51.282895 
L 537.927632 49.440789 
L 543.322368 47.072368 
L 546.875 45.263158 
L 550.098684 42.664474 
L 551.381579 39.473684 
L 549.868421 35.789474 
L 546.809211 33.322368 
L 541.940789 29.967105 
L 536.743421 26.940789 
L 533.388158 25.098684 
L 528.223684 22.368421 
L 522.828947 19.769737 
L 519.342105 18.092105 
L 516.447368 17.171053 
L 509.868421 14.950658 
" clip-path="url(#pd792279210)" style="fill: none; stroke-dasharray: 6,2,2,2,2,2; stroke-dashoffset: 0; stroke: #0000ff; stroke-width: 2"/>
   </g>
   <g id="line2d_45">
    <path d="M 377.631579 139.473684 
L 378.289474 138.980263 
L 379.473684 138.059211 
L 382.467105 136.940789 
L 386.184211 135.065789 
L 389.901316 133.223684 
L 393.618421 131.348684 
L 397.368421 128.75 
L 400.328947 126.513158 
L 403.322368 125.394737 
L 407.434211 123.881579 
L 409.276316 122.401316 
L 410.789474 120.164474 
L 410.394737 117.565789 
L 407.434211 114.967105 
L 404.078947 110.855263 
L 402.5 107.894737 
L 401.578947 104.868421 
L 402.171053 100.888158 
L 402.796053 97.861842 
L 405.526316 94.177632 
L 409.506579 89.934211 
L 414.078947 86.25 
L 419.934211 83.717105 
L 424.802632 81.578947 
L 430.230263 79.407895 
L 435.657895 77.105263 
L 442.467105 74.703947 
L 446.973684 73.322368 
L 452.467105 71.315789 
L 457.894737 69.111842 
L 463.552632 67.072368 
L 468.914474 65.098684 
L 474.605263 63.190789 
L 480.296053 61.151316 
L 485.723684 59.276316 
L 491.414474 57.236842 
L 496.842105 55.197368 
L 502.434211 53.026316 
L 507.861842 50.592105 
L 512.861842 47.730263 
L 516.118421 46.217105 
L 517.532895 44.243421 
L 518.651316 41.644737 
L 518.881579 38.815789 
L 517.960526 36.677632 
L 515.230263 33.322368 
L 510.953947 30.131579 
L 506.052632 27.236842 
L 500.888158 24.177632 
L 495.690789 21.447368 
L 490.197368 18.684211 
L 484.703947 16.546053 
L 480.921053 14.950658 
" clip-path="url(#pd792279210)" style="fill: none; stroke-dasharray: 6,2,2,2; stroke-dashoffset: 0; stroke: #008000; stroke-width: 2"/>
   </g>
   <g id="patch_9">
    <path d="M 340.394737 138.898026 
L 340.394737 14.950658 
" style="fill: none; stroke: #000000; stroke-width: 0.8; stroke-linejoin: miter; stroke-linecap: square"/>
   </g>
   <g id="patch_10">
    <path d="M 589.934211 138.898026 
L 589.934211 14.950658 
" style="fill: none; stroke: #000000; stroke-width: 0.8; stroke-linejoin: miter; stroke-linecap: square"/>
   </g>
   <g id="patch_11">
    <path d="M 340.394737 138.898026 
L 589.934211 138.898026 
" style="fill: none; stroke: #000000; stroke-width: 0.8; stroke-linejoin: miter; stroke-linecap: square"/>
   </g>
   <g id="patch_12">
    <path d="M 340.394737 14.950658 
L 589.934211 14.950658 
" style="fill: none; stroke: #000000; stroke-width: 0.8; stroke-linejoin: miter; stroke-linecap: square"/>
   </g>
   <g id="text_28">
    <text style="font-size: 12px; font-family: 'DejaVu Sans', 'Liberation Sans', sans-serif; text-anchor: middle" x="465.164474" y="8.950658" transform="rotate(-0 465.164474 8.950658)">(b)</text>
   </g>
   <g id="legend_2">
    <g id="patch_13">
     <path d="M 518.687961 134.398026 
L 583.634211 134.398026 
Q 585.434211 134.398026 585.434211 132.598026 
L 585.434211 81.421776 
Q 585.434211 79.621776 583.634211 79.621776 
L 518.687961 79.621776 
Q 516.887961 79.621776 516.887961 81.421776 
L 516.887961 132.598026 
Q 516.887961 134.398026 518.687961 134.398026 
z
" style="fill: #ffffff; opacity: 0.8; stroke: #cccccc; stroke-linejoin: miter"/>
    </g>
    <g id="line2d_46">
     <path d="M 520.307961 86.73037 
L 529.307961 86.73037 
L 538.307961 86.73037 
" style="fill: none; stroke: #000000; stroke-width: 2"/>
    </g>
    <g id="text_29">
     <text style="font-size: 9px; font-family: 'DejaVu Sans', 'Liberation Sans', sans-serif; text-anchor: start" x="544.787961" y="89.88037" transform="rotate(-0 544.787961 89.88037)">Nominal</text>
    </g>
    <g id="line2d_47">
     <path d="M 520.307961 99.805683 
L 529.307961 99.805683 
L 538.307961 99.805683 
" style="fill: none; stroke-dasharray: 2,2; stroke-dashoffset: 0; stroke: #ff0000; stroke-width: 2"/>
    </g>
    <g id="text_30">
     <text style="font-size: 9px; font-family: 'DejaVu Sans', 'Liberation Sans', sans-serif; text-anchor: start" x="544.787961" y="102.955683" transform="rotate(-0 544.787961 102.955683)">Case 1</text>
    </g>
    <g id="line2d_48">
     <path d="M 520.307961 112.880995 
L 529.307961 112.880995 
L 538.307961 112.880995 
" style="fill: none; stroke-dasharray: 6,2,2,2,2,2; stroke-dashoffset: 0; stroke: #0000ff; stroke-width: 2"/>
    </g>
    <g id="text_31">
     <text style="font-size: 9px; font-family: 'DejaVu Sans', 'Liberation Sans', sans-serif; text-anchor: start" x="544.787961" y="116.030995" transform="rotate(-0 544.787961 116.030995)">Case 2</text>
    </g>
    <g id="line2d_49">
     <path d="M 520.307961 125.956308 
L 529.307961 125.956308 
L 538.307961 125.956308 
" style="fill: none; stroke-dasharray: 6,2,2,2; stroke-dashoffset: 0; stroke: #008000; stroke-width: 2"/>
    </g>
    <g id="text_32">
     <text style="font-size: 9px; font-family: 'DejaVu Sans', 'Liberation Sans', sans-serif; text-anchor: start" x="544.787961" y="129.106308" transform="rotate(-0 544.787961 129.106308)">Case 3</text>
    </g>
   </g>
  </g>
  <g id="axes_3">
   <g id="patch_14">
    <path d="M 40.970395 287.631579 
L 290.526316 287.631579 
L 290.526316 163.634868 
L 40.970395 163.634868 
z
" style="fill: #ffffff"/>
   </g>
   <g id="line2d_50">
    <path d="M 55.690789 162.828947 
L 55.690789 182.532895 
L 55.756579 190.789474 
L 55.822368 194.078947 
L 56.151316 197.138158 
L 56.447368 200.164474 
L 57.5 202.927632 
L 58.881579 205.953947 
L 59.638158 207.203947 
L 61.776316 209.013158 
L 64.210526 210.855263 
L 66.973684 213.289474 
L 70.921053 215.131579 
L 75.493421 216.940789 
L 80.065789 218.782895 
L 84.638158 220.296053 
L 88.815789 221.25 
L 96.414474 223.190789 
L 104.013158 225.197368 
L 111.578947 226.842105 
L 119.177632 227.993421 
L 126.776316 229.243421 
L 131.578947 230 
L 140.263158 231.611842 
L 148.914474 232.894737 
L 157.598684 233.914474 
L 166.282895 234.934211 
L 174.967105 236.085526 
L 184.210526 237.236842 
L 190.493421 238.223684 
L 203.388158 239.677112 
L 216.25 240.950485 
L 229.111842 242.236842 
L 234.210526 242.960526 
L 245.361842 243.717105 
L 269.736842 245.953947 
L 291.447368 247.631579 
" clip-path="url(#pb53de90a22)" style="fill: none; stroke-dasharray: 3.7,1.6; stroke-dashoffset: 0; stroke: #a52a2a"/>
   </g>
   <g id="matplotlib.axis_5">
    <g id="xtick_12">
     <g id="line2d_51">
      <g>
       <path d="M 0 0 L 0 3.5" transform="translate(55.650155 287.631579)" style="stroke: #000000; stroke-width: 0.8; stroke: #000000; stroke-width: 0.8"/>
      </g>
     </g>
     <g id="text_33">
      <text style="font-size: 10px; font-family: 'DejaVu Sans', 'Liberation Sans', sans-serif; text-anchor: middle" x="55.650155" y="302.230016" transform="rotate(-0 55.650155 302.230016)">0</text>
     </g>
    </g>
    <g id="xtick_13">
     <g id="line2d_52">
      <g>
       <path d="M 0 0 L 0 3.5" transform="translate(114.369195 287.631579)" style="stroke: #000000; stroke-width: 0.8; stroke: #000000; stroke-width: 0.8"/>
      </g>
     </g>
     <g id="text_34">
      <text style="font-size: 10px; font-family: 'DejaVu Sans', 'Liberation Sans', sans-serif; text-anchor: middle" x="114.369195" y="302.230016" transform="rotate(-0 114.369195 302.230016)">2</text>
     </g>
    </g>
    <g id="xtick_14">
     <g id="line2d_53">
      <g>
       <path d="M 0 0 L 0 3.5" transform="translate(173.088235 287.631579)" style="stroke: #000000; stroke-width: 0.8; stroke: #000000; stroke-width: 0.8"/>
      </g>
     </g>
     <g id="text_35">
      <text style="font-size: 10px; font-family: 'DejaVu Sans', 'Liberation Sans', sans-serif; text-anchor: middle" x="173.088235" y="302.230016" transform="rotate(-0 173.088235 302.230016)">4</text>
     </g>
    </g>
    <g id="xtick_15">
     <g id="line2d_54">
      <g>
       <path d="M 0 0 L 0 3.5" transform="translate(231.807276 287.631579)" style="stroke: #000000; stroke-width: 0.8; stroke: #000000; stroke-width: 0.8"/>
      </g>
     </g>
     <g id="text_36">
      <text style="font-size: 10px; font-family: 'DejaVu Sans', 'Liberation Sans', sans-serif; text-anchor: middle" x="231.807276" y="302.230016" transform="rotate(-0 231.807276 302.230016)">6</text>
     </g>
    </g>
    <g id="xtick_16">
     <g id="line2d_55">
      <g>
       <path d="M 0 0 L 0 3.5" transform="translate(290.526316 287.631579)" style="stroke: #000000; stroke-width: 0.8; stroke: #000000; stroke-width: 0.8"/>
      </g>
     </g>
     <g id="text_37">
      <text style="font-size: 10px; font-family: 'DejaVu Sans', 'Liberation Sans', sans-serif; text-anchor: middle" x="290.526316" y="302.230016" transform="rotate(-0 290.526316 302.230016)">8</text>
     </g>
    </g>
    <g id="text_38">
     
     <g transform="translate(89.597555 317.738504)">
      <text>
       <tspan x="0" y="-0.875" style="font-size: 11.88px; font-family: 'DejaVu Sans', 'Liberation Sans', sans-serif">H</tspan>
       <tspan x="14.661078" y="-0.875" style="font-size: 11.88px; font-family: 'DejaVu Sans', 'Liberation Sans', sans-serif">S</tspan>
       <tspan x="22.19892" y="-0.875" style="font-size: 11.88px; font-family: 'DejaVu Sans', 'Liberation Sans', sans-serif">O</tspan>
       <tspan x="37.277478" y="-0.875" style="font-size: 11.88px; font-family: 'DejaVu Sans', 'Liberation Sans', sans-serif"> </tspan>
       <tspan x="41.052197" y="-0.875" style="font-size: 11.88px; font-family: 'DejaVu Sans', 'Liberation Sans', sans-serif">m</tspan>
       <tspan x="52.619885" y="-0.875" style="font-size: 11.88px; font-family: 'DejaVu Sans', 'Liberation Sans', sans-serif">i</tspan>
       <tspan x="55.919141" y="-0.875" style="font-size: 11.88px; font-family: 'DejaVu Sans', 'Liberation Sans', sans-serif">x</tspan>
       <tspan x="62.946729" y="-0.875" style="font-size: 11.88px; font-family: 'DejaVu Sans', 'Liberation Sans', sans-serif">i</tspan>
       <tspan x="66.245984" y="-0.875" style="font-size: 11.88px; font-family: 'DejaVu Sans', 'Liberation Sans', sans-serif">n</tspan>
       <tspan x="73.772229" y="-0.875" style="font-size: 11.88px; font-family: 'DejaVu Sans', 'Liberation Sans', sans-serif">g</tspan>
       <tspan x="81.310071" y="-0.875" style="font-size: 11.88px; font-family: 'DejaVu Sans', 'Liberation Sans', sans-serif"> </tspan>
       <tspan x="85.08479" y="-0.875" style="font-size: 11.88px; font-family: 'DejaVu Sans', 'Liberation Sans', sans-serif">r</tspan>
       <tspan x="89.966992" y="-0.875" style="font-size: 11.88px; font-family: 'DejaVu Sans', 'Liberation Sans', sans-serif">a</tspan>
       <tspan x="97.243909" y="-0.875" style="font-size: 11.88px; font-family: 'DejaVu Sans', 'Liberation Sans', sans-serif">t</tspan>
       <tspan x="101.899976" y="-0.875" style="font-size: 11.88px; font-family: 'DejaVu Sans', 'Liberation Sans', sans-serif">i</tspan>
       <tspan x="105.199231" y="-0.875" style="font-size: 11.88px; font-family: 'DejaVu Sans', 'Liberation Sans', sans-serif">o</tspan>
       <tspan x="112.464551" y="-0.875" style="font-size: 11.88px; font-family: 'DejaVu Sans', 'Liberation Sans', sans-serif"> </tspan>
       <tspan x="116.23927" y="-0.875" style="font-size: 11.88px; font-family: 'DejaVu Sans', 'Liberation Sans', sans-serif">[</tspan>
       <tspan x="120.872144" y="-0.875" style="font-size: 11.88px; font-family: 'DejaVu Sans', 'Liberation Sans', sans-serif">p</tspan>
       <tspan x="128.409985" y="-0.875" style="font-size: 11.88px; font-family: 'DejaVu Sans', 'Liberation Sans', sans-serif">p</tspan>
       <tspan x="135.947827" y="-0.875" style="font-size: 11.88px; font-family: 'DejaVu Sans', 'Liberation Sans', sans-serif">m</tspan>
       <tspan x="147.515515" y="-0.875" style="font-size: 11.88px; font-family: 'DejaVu Sans', 'Liberation Sans', sans-serif">]</tspan>
       <tspan x="9.044287" y="1.09375" style="font-size: 8.316px; font-family: 'DejaVu Sans', 'Liberation Sans', sans-serif">2</tspan>
       <tspan x="31.660687" y="1.09375" style="font-size: 8.316px; font-family: 'DejaVu Sans', 'Liberation Sans', sans-serif">4</tspan>
      </text>
     </g>
    </g>
   </g>
   <g id="matplotlib.axis_6">
    <g id="ytick_11">
     <g id="line2d_56">
      <g>
       <path d="M 0 0 L -3.5 0" transform="translate(40.970395 287.631579)" style="stroke: #000000; stroke-width: 0.8; stroke: #000000; stroke-width: 0.8"/>
      </g>
     </g>
     <g id="text_39">
      <text style="font-size: 10px; font-family: 'DejaVu Sans', 'Liberation Sans', sans-serif; text-anchor: end" x="33.970395" y="291.430798" transform="rotate(-0 33.970395 291.430798)">40</text>
     </g>
    </g>
    <g id="ytick_12">
     <g id="line2d_57">
      <g>
       <path d="M 0 0 L -3.5 0" transform="translate(40.970395 256.632401)" style="stroke: #000000; stroke-width: 0.8; stroke: #000000; stroke-width: 0.8"/>
      </g>
     </g>
     <g id="text_40">
      <text style="font-size: 10px; font-family: 'DejaVu Sans', 'Liberation Sans', sans-serif; text-anchor: end" x="33.970395" y="260.43162" transform="rotate(-0 33.970395 260.43162)">45</text>
     </g>
    </g>
    <g id="ytick_13">
     <g id="line2d_58">
      <g>
       <path d="M 0 0 L -3.5 0" transform="translate(40.970395 225.633224)" style="stroke: #000000; stroke-width: 0.8; stroke: #000000; stroke-width: 0.8"/>
      </g>
     </g>
     <g id="text_41">
      <text style="font-size: 10px; font-family: 'DejaVu Sans', 'Liberation Sans', sans-serif; text-anchor: end" x="33.970395" y="229.432442" transform="rotate(-0 33.970395 229.432442)">50</text>
     </g>
    </g>
    <g id="ytick_14">
     <g id="line2d_59">
      <g>
       <path d="M 0 0 L -3.5 0" transform="translate(40.970395 194.634046)" style="stroke: #000000; stroke-width: 0.8; stroke: #000000; stroke-width: 0.8"/>
      </g>
     </g>
     <g id="text_42">
      <text style="font-size: 10px; font-family: 'DejaVu Sans', 'Liberation Sans', sans-serif; text-anchor: end" x="33.970395" y="198.433265" transform="rotate(-0 33.970395 198.433265)">55</text>
     </g>
    </g>
    <g id="ytick_15">
     <g id="line2d_60">
      <g>
       <path d="M 0 0 L -3.5 0" transform="translate(40.970395 163.634868)" style="stroke: #000000; stroke-width: 0.8; stroke: #000000; stroke-width: 0.8"/>
      </g>
     </g>
     <g id="text_43">
      <text style="font-size: 10px; font-family: 'DejaVu Sans', 'Liberation Sans', sans-serif; text-anchor: end" x="33.970395" y="167.434087" transform="rotate(-0 33.970395 167.434087)">60</text>
     </g>
    </g>
   </g>
   <g id="line2d_61">
    
    <g clip-path="url(#pb53de90a22)">
     <path d="M 0 1.5 C 0.397805 1.5 0.77937 1.341951 1.06066 1.06066 C 1.341951 0.77937 1.5 0.397805 1.5 0 C 1.5 -0.397805 1.341951 -0.77937 1.06066 -1.06066 C 0.77937 -1.341951 0.397805 -1.5 0 -1.5 C -0.397805 -1.5 -0.77937 -1.341951 -1.06066 -1.06066 C -1.341951 -0.77937 -1.5 -0.397805 -1.5 0 C -1.5 0.397805 -1.341951 0.77937 -1.06066 1.06066 C -0.77937 1.341951 -0.397805 1.5 0 1.5 z" transform="translate(64.507922 201.019877)" style="stroke: #000000; stroke: #000000"/>
     <path d="M 0 1.5 C 0.397805 1.5 0.77937 1.341951 1.06066 1.06066 C 1.341951 0.77937 1.5 0.397805 1.5 0 C 1.5 -0.397805 1.341951 -0.77937 1.06066 -1.06066 C 0.77937 -1.341951 0.397805 -1.5 0 -1.5 C -0.397805 -1.5 -0.77937 -1.341951 -1.06066 -1.06066 C -1.341951 -0.77937 -1.5 -0.397805 -1.5 0 C -1.5 0.397805 -1.341951 0.77937 -1.06066 1.06066 C -0.77937 1.341951 -0.397805 1.5 0 1.5 z" transform="translate(48.956184 207.281711)" style="stroke: #000000; stroke: #000000"/>
     <path d="M 0 1.5 C 0.397805 1.5 0.77937 1.341951 1.06066 1.06066 C 1.341951 0.77937 1.5 0.397805 1.5 0 C 1.5 -0.397805 1.341951 -0.77937 1.06066 -1.06066 C 0.77937 -1.341951 0.397805 -1.5 0 -1.5 C -0.397805 -1.5 -0.77937 -1.341951 -1.06066 -1.06066 C -1.341951 -0.77937 -1.5 -0.397805 -1.5 0 C -1.5 0.397805 -1.341951 0.77937 -1.06066 1.06066 C -0.77937 1.341951 -0.397805 1.5 0 1.5 z" transform="translate(51.216867 213.109556)" style="stroke: #000000; stroke: #000000"/>
     <path d="M 0 1.5 C 0.397805 1.5 0.77937 1.341951 1.06066 1.06066 C 1.341951 0.77937 1.5 0.397805 1.5 0 C 1.5 -0.397805 1.341951 -0.77937 1.06066 -1.06066 C 0.77937 -1.341951 0.397805 -1.5 0 -1.5 C -0.397805 -1.5 -0.77937 -1.341951 -1.06066 -1.06066 C -1.341951 -0.77937 -1.5 -0.397805 -1.5 0 C -1.5 0.397805 -1.341951 0.77937 -1.06066 1.06066 C -0.77937 1.341951 -0.397805 1.5 0 1.5 z" transform="translate(56.354783 222.533306)" style="stroke: #000000; stroke: #000000"/>
     <path d="M 0 1.5 C 0.397805 1.5 0.77937 1.341951 1.06066 1.06066 C 1.341951 0.77937 1.5 0.397805 1.5 0 C 1.5 -0.397805 1.341951 -0.77937 1.06066 -1.06066 C 0.77937 -1.341951 0.397805 -1.5 0 -1.5 C -0.397805 -1.5 -0.77937 -1.341951 -1.06066 -1.06066 C -1.341951 -0.77937 -1.5 -0.397805 -1.5 0 C -1.5 0.397805 -1.341951 0.77937 -1.06066 1.06066 C -0.77937 1.341951 -0.397805 1.5 0 1.5 z" transform="translate(72.326362 226.067212)" style="stroke: #000000; stroke: #000000"/>
     <path d="M 0 1.5 C 0.397805 1.5 0.77937 1.341951 1.06066 1.06066 C 1.341951 0.77937 1.5 0.397805 1.5 0 C 1.5 -0.397805 1.341951 -0.77937 1.06066 -1.06066 C 0.77937 -1.341951 0.397805 -1.5 0 -1.5 C -0.397805 -1.5 -0.77937 -1.341951 -1.06066 -1.06066 C -1.341951 -0.77937 -1.5 -0.397805 -1.5 0 C -1.5 0.397805 -1.341951 0.77937 -1.06066 1.06066 C -0.77937 1.341951 -0.397805 1.5 0 1.5 z" transform="translate(124.645027 216.457467)" style="stroke: #000000; stroke: #000000"/>
     <path d="M 0 1.5 C 0.397805 1.5 0.77937 1.341951 1.06066 1.06066 C 1.341951 0.77937 1.5 0.397805 1.5 0 C 1.5 -0.397805 1.341951 -0.77937 1.06066 -1.06066 C 0.77937 -1.341951 0.397805 -1.5 0 -1.5 C -0.397805 -1.5 -0.77937 -1.341951 -1.06066 -1.06066 C -1.341951 -0.77937 -1.5 -0.397805 -1.5 0 C -1.5 0.397805 -1.341951 0.77937 -1.06066 1.06066 C -0.77937 1.341951 -0.397805 1.5 0 1.5 z" transform="translate(124.204634 229.105132)" style="stroke: #000000; stroke: #000000"/>
     <path d="M 0 1.5 C 0.397805 1.5 0.77937 1.341951 1.06066 1.06066 C 1.341951 0.77937 1.5 0.397805 1.5 0 C 1.5 -0.397805 1.341951 -0.77937 1.06066 -1.06066 C 0.77937 -1.341951 0.397805 -1.5 0 -1.5 C -0.397805 -1.5 -0.77937 -1.341951 -1.06066 -1.06066 C -1.341951 -0.77937 -1.5 -0.397805 -1.5 0 C -1.5 0.397805 -1.341951 0.77937 -1.06066 1.06066 C -0.77937 1.341951 -0.397805 1.5 0 1.5 z" transform="translate(128.13881 234.746982)" style="stroke: #000000; stroke: #000000"/>
     <path d="M 0 1.5 C 0.397805 1.5 0.77937 1.341951 1.06066 1.06066 C 1.341951 0.77937 1.5 0.397805 1.5 0 C 1.5 -0.397805 1.341951 -0.77937 1.06066 -1.06066 C 0.77937 -1.341951 0.397805 -1.5 0 -1.5 C -0.397805 -1.5 -0.77937 -1.341951 -1.06066 -1.06066 C -1.341951 -0.77937 -1.5 -0.397805 -1.5 0 C -1.5 0.397805 -1.341951 0.77937 -1.06066 1.06066 C -0.77937 1.341951 -0.397805 1.5 0 1.5 z" transform="translate(137.856811 232.081053)" style="stroke: #000000; stroke: #000000"/>
     <path d="M 0 1.5 C 0.397805 1.5 0.77937 1.341951 1.06066 1.06066 C 1.341951 0.77937 1.5 0.397805 1.5 0 C 1.5 -0.397805 1.341951 -0.77937 1.06066 -1.06066 C 0.77937 -1.341951 0.397805 -1.5 0 -1.5 C -0.397805 -1.5 -0.77937 -1.341951 -1.06066 -1.06066 C -1.341951 -0.77937 -1.5 -0.397805 -1.5 0 C -1.5 0.397805 -1.341951 0.77937 -1.06066 1.06066 C -0.77937 1.341951 -0.397805 1.5 0 1.5 z" transform="translate(194.872999 241.132812)" style="stroke: #000000; stroke: #000000"/>
     <path d="M 0 1.5 C 0.397805 1.5 0.77937 1.341951 1.06066 1.06066 C 1.341951 0.77937 1.5 0.397805 1.5 0 C 1.5 -0.397805 1.341951 -0.77937 1.06066 -1.06066 C 0.77937 -1.341951 0.397805 -1.5 0 -1.5 C -0.397805 -1.5 -0.77937 -1.341951 -1.06066 -1.06066 C -1.341951 -0.77937 -1.5 -0.397805 -1.5 0 C -1.5 0.397805 -1.341951 0.77937 -1.06066 1.06066 C -0.77937 1.341951 -0.397805 1.5 0 1.5 z" transform="translate(211.607926 250.122574)" style="stroke: #000000; stroke: #000000"/>
     <path d="M 0 1.5 C 0.397805 1.5 0.77937 1.341951 1.06066 1.06066 C 1.341951 0.77937 1.5 0.397805 1.5 0 C 1.5 -0.397805 1.341951 -0.77937 1.06066 -1.06066 C 0.77937 -1.341951 0.397805 -1.5 0 -1.5 C -0.397805 -1.5 -0.77937 -1.341951 -1.06066 -1.06066 C -1.341951 -0.77937 -1.5 -0.397805 -1.5 0 C -1.5 0.397805 -1.341951 0.77937 -1.06066 1.06066 C -0.77937 1.341951 -0.397805 1.5 0 1.5 z" transform="translate(206.147055 256.632401)" style="stroke: #000000; stroke: #000000"/>
     <path d="M 0 1.5 C 0.397805 1.5 0.77937 1.341951 1.06066 1.06066 C 1.341951 0.77937 1.5 0.397805 1.5 0 C 1.5 -0.397805 1.341951 -0.77937 1.06066 -1.06066 C 0.77937 -1.341951 0.397805 -1.5 0 -1.5 C -0.397805 -1.5 -0.77937 -1.341951 -1.06066 -1.06066 C -1.341951 -0.77937 -1.5 -0.397805 -1.5 0 C -1.5 0.397805 -1.341951 0.77937 -1.06066 1.06066 C -0.77937 1.341951 -0.397805 1.5 0 1.5 z" transform="translate(257.23262 247.022656)" style="stroke: #000000; stroke: #000000"/>
     <path d="M 0 1.5 C 0.397805 1.5 0.77937 1.341951 1.06066 1.06066 C 1.341951 0.77937 1.5 0.397805 1.5 0 C 1.5 -0.397805 1.341951 -0.77937 1.06066 -1.06066 C 0.77937 -1.341951 0.397805 -1.5 0 -1.5 C -0.397805 -1.5 -0.77937 -1.341951 -1.06066 -1.06066 C -1.341951 -0.77937 -1.5 -0.397805 -1.5 0 C -1.5 0.397805 -1.341951 0.77937 -1.06066 1.06066 C -0.77937 1.341951 -0.397805 1.5 0 1.5 z" transform="translate(167.979679 268.722081)" style="stroke: #000000; stroke: #000000"/>
     <path d="M 0 1.5 C 0.397805 1.5 0.77937 1.341951 1.06066 1.06066 C 1.341951 0.77937 1.5 0.397805 1.5 0 C 1.5 -0.397805 1.341951 -0.77937 1.06066 -1.06066 C 0.77937 -1.341951 0.397805 -1.5 0 -1.5 C -0.397805 -1.5 -0.77937 -1.341951 -1.06066 -1.06066 C -1.341951 -0.77937 -1.5 -0.397805 -1.5 0 C -1.5 0.397805 -1.341951 0.77937 -1.06066 1.06066 C -0.77937 1.341951 -0.397805 1.5 0 1.5 z" transform="translate(122.766018 275.231908)" style="stroke: #000000; stroke: #000000"/>
     <path d="M 0 1.5 C 0.397805 1.5 0.77937 1.341951 1.06066 1.06066 C 1.341951 0.77937 1.5 0.397805 1.5 0 C 1.5 -0.397805 1.341951 -0.77937 1.06066 -1.06066 C 0.77937 -1.341951 0.397805 -1.5 0 -1.5 C -0.397805 -1.5 -0.77937 -1.341951 -1.06066 -1.06066 C -1.341951 -0.77937 -1.5 -0.397805 -1.5 0 C -1.5 0.397805 -1.341951 0.77937 -1.06066 1.06066 C -0.77937 1.341951 -0.397805 1.5 0 1.5 z" transform="translate(98.13338 281.369745)" style="stroke: #000000; stroke: #000000"/>
     <path d="M 0 1.5 C 0.397805 1.5 0.77937 1.341951 1.06066 1.06066 C 1.341951 0.77937 1.5 0.397805 1.5 0 C 1.5 -0.397805 1.341951 -0.77937 1.06066 -1.06066 C 0.77937 -1.341951 0.397805 -1.5 0 -1.5 C -0.397805 -1.5 -0.77937 -1.341951 -1.06066 -1.06066 C -1.341951 -0.77937 -1.5 -0.397805 -1.5 0 C -1.5 0.397805 -1.341951 0.77937 -1.06066 1.06066 C -0.77937 1.341951 -0.397805 1.5 0 1.5 z" transform="translate(131.955548 286.949597)" style="stroke: #000000; stroke: #000000"/>
    </g>
   </g>
   <g id="line2d_62">
    
    <g clip-path="url(#pb53de90a22)">
     <path d="M 0 -3 L -0.673542 -0.927051 L -2.85317 -0.927051 L -1.089814 0.354102 L -1.763356 2.427051 L -0 1.145898 L 1.763356 2.427051 L 1.089814 0.354102 L 2.85317 -0.927051 L 0.673542 -0.927051 z" transform="translate(55.650155 200.833882)" style="stroke: #ffa500; stroke-linejoin: bevel; fill: #ffa500; stroke: #ffa500; stroke-linejoin: bevel"/>
     <path d="M 0 -3 L -0.673542 -0.927051 L -2.85317 -0.927051 L -1.089814 0.354102 L -1.763356 2.427051 L -0 1.145898 L 1.763356 2.427051 L 1.089814 0.354102 L 2.85317 -0.927051 L 0.673542 -0.927051 z" transform="translate(55.650155 213.233553)" style="stroke: #ffa500; stroke-linejoin: bevel; fill: #ffa500; stroke: #ffa500; stroke-linejoin: bevel"/>
     <path d="M 0 -3 L -0.673542 -0.927051 L -2.85317 -0.927051 L -1.089814 0.354102 L -1.763356 2.427051 L -0 1.145898 L 1.763356 2.427051 L 1.089814 0.354102 L 2.85317 -0.927051 L 0.673542 -0.927051 z" transform="translate(85.009675 225.633224)" style="stroke: #ffa500; stroke-linejoin: bevel; fill: #ffa500; stroke: #ffa500; stroke-linejoin: bevel"/>
     <path d="M 0 -3 L -0.673542 -0.927051 L -2.85317 -0.927051 L -1.089814 0.354102 L -1.763356 2.427051 L -0 1.145898 L 1.763356 2.427051 L 1.089814 0.354102 L 2.85317 -0.927051 L 0.673542 -0.927051 z" transform="translate(143.728715 238.032895)" style="stroke: #ffa500; stroke-linejoin: bevel; fill: #ffa500; stroke: #ffa500; stroke-linejoin: bevel"/>
     <path d="M 0 -3 L -0.673542 -0.927051 L -2.85317 -0.927051 L -1.089814 0.354102 L -1.763356 2.427051 L -0 1.145898 L 1.763356 2.427051 L 1.089814 0.354102 L 2.85317 -0.927051 L 0.673542 -0.927051 z" transform="translate(202.447755 250.432566)" style="stroke: #ffa500; stroke-linejoin: bevel; fill: #ffa500; stroke: #ffa500; stroke-linejoin: bevel"/>
     <path d="M 0 -3 L -0.673542 -0.927051 L -2.85317 -0.927051 L -1.089814 0.354102 L -1.763356 2.427051 L -0 1.145898 L 1.763356 2.427051 L 1.089814 0.354102 L 2.85317 -0.927051 L 0.673542 -0.927051 z" transform="translate(231.807276 262.832237)" style="stroke: #ffa500; stroke-linejoin: bevel; fill: #ffa500; stroke: #ffa500; stroke-linejoin: bevel"/>
     <path d="M 0 -3 L -0.673542 -0.927051 L -2.85317 -0.927051 L -1.089814 0.354102 L -1.763356 2.427051 L -0 1.145898 L 1.763356 2.427051 L 1.089814 0.354102 L 2.85317 -0.927051 L 0.673542 -0.927051 z" transform="translate(261.166796 275.231908)" style="stroke: #ffa500; stroke-linejoin: bevel; fill: #ffa500; stroke: #ffa500; stroke-linejoin: bevel"/>
     <path d="M 0 -3 L -0.673542 -0.927051 L -2.85317 -0.927051 L -1.089814 0.354102 L -1.763356 2.427051 L -0 1.145898 L 1.763356 2.427051 L 1.089814 0.354102 L 2.85317 -0.927051 L 0.673542 -0.927051 z" transform="translate(261.166796 287.631579)" style="stroke: #ffa500; stroke-linejoin: bevel; fill: #ffa500; stroke: #ffa500; stroke-linejoin: bevel"/>
    </g>
   </g>
   <g id="line2d_63">
    <path d="M 172.368421 287.993421 
L 174.210526 286.578947 
L 179.703947 283.684211 
L 185.460526 280.822368 
L 191.217105 277.796053 
L 196.973684 274.342105 
L 202.730263 271.019737 
L 208.486842 267.269737 
L 211.875 265.065789 
L 214.605263 262.894737 
L 218.651316 260.197368 
L 221.907895 257.763158 
L 225.427632 255.296053 
L 229.506579 252.335526 
L 232.203947 249.901316 
L 232.894737 248.552632 
L 235.263158 245.921053 
L 237.664474 244.243421 
L 240.592105 242.861842 
L 238.815789 244.078947 
L 234.210526 243.684211 
L 229.111842 243.059211 
L 216.25 241.447368 
L 203.388158 239.835526 
L 190.493421 238.223684 
L 184.210526 237.236842 
L 174.967105 236.085526 
L 166.282895 234.934211 
L 157.598684 233.914474 
L 148.914474 232.894737 
L 140.263158 231.611842 
L 131.578947 230 
L 126.776316 229.243421 
L 119.177632 227.993421 
L 111.578947 226.842105 
L 104.013158 225.197368 
L 96.414474 223.190789 
L 88.815789 221.25 
L 84.638158 220.296053 
L 80.065789 218.782895 
L 75.493421 216.940789 
L 70.921053 215.131579 
L 66.973684 213.289474 
L 64.210526 210.855263 
L 61.776316 209.013158 
L 59.638158 207.203947 
L 58.881579 205.953947 
L 57.5 202.927632 
L 56.447368 200.164474 
L 56.151316 197.138158 
L 55.822368 194.078947 
L 55.756579 190.789474 
L 55.690789 182.532895 
L 55.690789 162.828947 
" clip-path="url(#pb53de90a22)" style="fill: none; stroke: #000000; stroke-width: 2"/>
   </g>
   <g id="line2d_64">
    <path d="M 171.381579 287.993421 
L 174.210526 286.019737 
L 179.703947 282.894737 
L 185.460526 279.769737 
L 191.217105 276.644737 
L 196.973684 273.190789 
L 202.730263 269.736842 
L 208.486842 265.953947 
L 210.789474 263.980263 
L 213.782895 262.072368 
L 217.039474 259.638158 
L 220.296053 257.467105 
L 223.256579 255.032895 
L 226.25 252.598684 
L 229.243421 249.901316 
L 231.677632 246.644737 
L 234.375 244.407895 
L 234.210526 243.684211 
L 229.111842 243.059211 
L 216.25 241.447368 
L 203.388158 239.835526 
L 190.493421 238.223684 
L 184.210526 237.236842 
L 174.967105 236.085526 
L 166.282895 234.934211 
L 157.598684 233.914474 
L 148.914474 232.894737 
L 140.263158 231.611842 
L 131.578947 230 
L 126.776316 229.243421 
L 119.177632 227.993421 
L 111.578947 226.842105 
L 104.013158 225.197368 
L 96.414474 223.190789 
L 88.815789 221.25 
L 84.638158 220.296053 
L 80.065789 218.782895 
L 75.493421 216.940789 
L 70.921053 215.131579 
L 66.973684 213.289474 
L 64.210526 210.855263 
L 61.776316 209.013158 
L 59.638158 207.203947 
L 58.881579 205.953947 
L 57.5 202.927632 
L 56.447368 200.164474 
L 56.151316 197.138158 
L 55.822368 194.078947 
L 55.756579 190.789474 
L 55.690789 182.532895 
L 55.690789 162.828947 
" clip-path="url(#pb53de90a22)" style="fill: none; stroke-dasharray: 2,2; stroke-dashoffset: 0.8; stroke: #ff0000; stroke-width: 2"/>
   </g>
   <g id="line2d_65">
    <path d="M 173.026316 287.993421 
L 174.210526 287.006579 
L 179.703947 284.210526 
L 185.460526 281.414474 
L 191.217105 278.453947 
L 196.973684 275.164474 
L 202.730263 271.875 
L 208.486842 268.256579 
L 214.605263 265.065789 
L 217.302632 263.717105 
L 221.907895 260.723684 
L 225.427632 258.552632 
L 231.118421 255.032895 
L 235.197368 252.072368 
L 237.894737 249.078947 
L 240.328947 246.085526 
L 241.776316 244.013158 
L 237.171053 244.078947 
L 234.210526 243.684211 
L 229.111842 243.059211 
L 216.25 241.447368 
L 203.388158 239.835526 
L 190.493421 238.223684 
L 184.210526 237.236842 
L 174.967105 236.085526 
L 166.282895 234.934211 
L 157.598684 233.914474 
L 148.914474 232.894737 
L 140.263158 231.611842 
L 131.578947 230 
L 126.776316 229.243421 
L 119.177632 227.993421 
L 111.578947 226.842105 
L 104.013158 225.197368 
L 96.414474 223.190789 
L 88.815789 221.25 
L 84.638158 220.296053 
L 80.065789 218.782895 
L 75.493421 216.940789 
L 70.921053 215.131579 
L 66.973684 213.289474 
L 64.210526 210.855263 
L 61.776316 209.013158 
L 59.638158 207.203947 
L 58.881579 205.953947 
L 57.5 202.927632 
L 56.447368 200.164474 
L 56.151316 197.138158 
L 55.822368 194.078947 
L 55.756579 190.789474 
L 55.690789 182.532895 
L 55.690789 162.828947 
" clip-path="url(#pb53de90a22)" style="fill: none; stroke-dasharray: 6,2,2,2,2,2; stroke-dashoffset: 2.8; stroke: #0000ff; stroke-width: 2"/>
   </g>
   <g id="line2d_66">
    <path d="M 172.697368 287.993421 
L 174.210526 286.842105 
L 179.703947 283.947368 
L 185.460526 281.118421 
L 191.217105 278.125 
L 196.973684 274.769737 
L 202.730263 271.447368 
L 208.486842 267.763158 
L 211.875 265.328947 
L 215.953947 262.631579 
L 221.381579 259.111842 
L 226.776316 255.296053 
L 231.118421 252.861842 
L 234.375 250.164474 
L 236.546053 247.730263 
L 239.243421 244.210526 
L 237.171053 244.078947 
L 234.210526 243.684211 
L 229.111842 243.059211 
L 216.25 241.447368 
L 203.388158 239.835526 
L 190.493421 238.223684 
L 184.210526 237.236842 
L 174.967105 236.085526 
L 166.282895 234.934211 
L 157.598684 233.914474 
L 148.914474 232.894737 
L 140.263158 231.611842 
L 131.578947 230 
L 126.776316 229.243421 
L 119.177632 227.993421 
L 111.578947 226.842105 
L 104.013158 225.197368 
L 96.414474 223.190789 
L 88.815789 221.25 
L 84.638158 220.296053 
L 80.065789 218.782895 
L 75.493421 216.940789 
L 70.921053 215.131579 
L 66.973684 213.289474 
L 64.210526 210.855263 
L 61.776316 209.013158 
L 59.638158 207.203947 
L 58.881579 205.953947 
L 57.5 202.927632 
L 56.447368 200.164474 
L 56.151316 197.138158 
L 55.822368 194.078947 
L 55.756579 190.789474 
L 55.690789 182.532895 
L 55.690789 162.828947 
" clip-path="url(#pb53de90a22)" style="fill: none; stroke-dasharray: 6,2,2,2; stroke-dashoffset: 2.8; stroke: #008000; stroke-width: 2"/>
   </g>
   <g id="patch_15">
    <path d="M 40.970395 287.631579 
L 40.970395 163.634868 
" style="fill: none; stroke: #000000; stroke-width: 0.8; stroke-linejoin: miter; stroke-linecap: square"/>
   </g>
   <g id="patch_16">
    <path d="M 290.526316 287.631579 
L 290.526316 163.634868 
" style="fill: none; stroke: #000000; stroke-width: 0.8; stroke-linejoin: miter; stroke-linecap: square"/>
   </g>
   <g id="patch_17">
    <path d="M 40.970395 287.631579 
L 290.526316 287.631579 
" style="fill: none; stroke: #000000; stroke-width: 0.8; stroke-linejoin: miter; stroke-linecap: square"/>
   </g>
   <g id="patch_18">
    <path d="M 40.970395 163.634868 
L 290.526316 163.634868 
" style="fill: none; stroke: #000000; stroke-width: 0.8; stroke-linejoin: miter; stroke-linecap: square"/>
   </g>
   <g id="legend_3">
    <g id="patch_19">
     <path d="M 183.507878 209.835806 
L 284.226316 209.835806 
Q 286.026316 209.835806 286.026316 208.035806 
L 286.026316 169.934868 
Q 286.026316 168.134868 284.226316 168.134868 
L 183.507878 168.134868 
Q 181.707878 168.134868 181.707878 169.934868 
L 181.707878 208.035806 
Q 181.707878 209.835806 183.507878 209.835806 
z
" style="fill: #ffffff; opacity: 0.8; stroke: #cccccc; stroke-linejoin: miter"/>
    </g>
    <g id="line2d_67">
     <path d="M 185.127878 175.243462 
L 194.127878 175.243462 
L 203.127878 175.243462 
" style="fill: none; stroke-dasharray: 3.7,1.6; stroke-dashoffset: 0; stroke: #a52a2a"/>
    </g>
    <g id="text_44">
     <text style="font-size: 9px; font-family: 'DejaVu Sans', 'Liberation Sans', sans-serif; text-anchor: start" x="209.607878" y="178.393462" transform="rotate(-0 209.607878 178.393462)">SVMR (Nominal)</text>
    </g>
    <g id="line2d_68">
     <g>
      <path d="M 0 1.5 C 0.397805 1.5 0.77937 1.341951 1.06066 1.06066 C 1.341951 0.77937 1.5 0.397805 1.5 0 C 1.5 -0.397805 1.341951 -0.77937 1.06066 -1.06066 C 0.77937 -1.341951 0.397805 -1.5 0 -1.5 C -0.397805 -1.5 -0.77937 -1.341951 -1.06066 -1.06066 C -1.341951 -0.77937 -1.5 -0.397805 -1.5 0 C -1.5 0.397805 -1.341951 0.77937 -1.06066 1.06066 C -0.77937 1.341951 -0.397805 1.5 0 1.5 z" transform="translate(194.127878 188.318775)" style="stroke: #000000; stroke: #000000"/>
     </g>
    </g>
    <g id="text_45">
     <text style="font-size: 9px; font-family: 'DejaVu Sans', 'Liberation Sans', sans-serif; text-anchor: start" x="209.607878" y="191.468775" transform="rotate(-0 209.607878 191.468775)">KS1998</text>
    </g>
    <g id="line2d_69">
     <g>
      <path d="M 0 -3 L -0.673542 -0.927051 L -2.85317 -0.927051 L -1.089814 0.354102 L -1.763356 2.427051 L -0 1.145898 L 1.763356 2.427051 L 1.089814 0.354102 L 2.85317 -0.927051 L 0.673542 -0.927051 z" transform="translate(194.127878 201.394087)" style="stroke: #ffa500; stroke-linejoin: bevel; fill: #ffa500; stroke: #ffa500; stroke-linejoin: bevel"/>
     </g>
    </g>
    <g id="text_46">
     <text style="font-size: 9px; font-family: 'DejaVu Sans', 'Liberation Sans', sans-serif; text-anchor: start" x="209.607878" y="204.544087" transform="rotate(-0 209.607878 204.544087)">O2021</text>
    </g>
   </g>
  </g>
  <g id="axes_4">
   <g id="patch_20">
    <path d="M 340.394737 287.631579 
L 589.934211 287.631579 
L 589.934211 163.634868 
L 340.394737 163.634868 
z
" style="fill: #ffffff"/>
   </g>
   <g id="matplotlib.axis_7">
    <g id="xtick_17">
     <g id="line2d_70">
      <g>
       <path d="M 0 0 L 0 3.5" transform="translate(340.394737 287.631579)" style="stroke: #000000; stroke-width: 0.8; stroke: #000000; stroke-width: 0.8"/>
      </g>
     </g>
     <g id="text_47">
      <text style="font-size: 10px; font-family: 'DejaVu Sans', 'Liberation Sans', sans-serif; text-anchor: middle" x="340.394737" y="302.230016" transform="rotate(-0 340.394737 302.230016)">0</text>
     </g>
    </g>
    <g id="xtick_18">
     <g id="line2d_71">
      <g>
       <path d="M 0 0 L 0 3.5" transform="translate(371.587171 287.631579)" style="stroke: #000000; stroke-width: 0.8; stroke: #000000; stroke-width: 0.8"/>
      </g>
     </g>
     <g id="text_48">
      <text style="font-size: 10px; font-family: 'DejaVu Sans', 'Liberation Sans', sans-serif; text-anchor: middle" x="371.587171" y="302.230016" transform="rotate(-0 371.587171 302.230016)">25</text>
     </g>
    </g>
    <g id="xtick_19">
     <g id="line2d_72">
      <g>
       <path d="M 0 0 L 0 3.5" transform="translate(402.779605 287.631579)" style="stroke: #000000; stroke-width: 0.8; stroke: #000000; stroke-width: 0.8"/>
      </g>
     </g>
     <g id="text_49">
      <text style="font-size: 10px; font-family: 'DejaVu Sans', 'Liberation Sans', sans-serif; text-anchor: middle" x="402.779605" y="302.230016" transform="rotate(-0 402.779605 302.230016)">50</text>
     </g>
    </g>
    <g id="xtick_20">
     <g id="line2d_73">
      <g>
       <path d="M 0 0 L 0 3.5" transform="translate(433.972039 287.631579)" style="stroke: #000000; stroke-width: 0.8; stroke: #000000; stroke-width: 0.8"/>
      </g>
     </g>
     <g id="text_50">
      <text style="font-size: 10px; font-family: 'DejaVu Sans', 'Liberation Sans', sans-serif; text-anchor: middle" x="433.972039" y="302.230016" transform="rotate(-0 433.972039 302.230016)">75</text>
     </g>
    </g>
    <g id="xtick_21">
     <g id="line2d_74">
      <g>
       <path d="M 0 0 L 0 3.5" transform="translate(465.164474 287.631579)" style="stroke: #000000; stroke-width: 0.8; stroke: #000000; stroke-width: 0.8"/>
      </g>
     </g>
     <g id="text_51">
      <text style="font-size: 10px; font-family: 'DejaVu Sans', 'Liberation Sans', sans-serif; text-anchor: middle" x="465.164474" y="302.230016" transform="rotate(-0 465.164474 302.230016)">100</text>
     </g>
    </g>
    <g id="xtick_22">
     <g id="line2d_75">
      <g>
       <path d="M 0 0 L 0 3.5" transform="translate(496.356908 287.631579)" style="stroke: #000000; stroke-width: 0.8; stroke: #000000; stroke-width: 0.8"/>
      </g>
     </g>
     <g id="text_52">
      <text style="font-size: 10px; font-family: 'DejaVu Sans', 'Liberation Sans', sans-serif; text-anchor: middle" x="496.356908" y="302.230016" transform="rotate(-0 496.356908 302.230016)">125</text>
     </g>
    </g>
    <g id="xtick_23">
     <g id="line2d_76">
      <g>
       <path d="M 0 0 L 0 3.5" transform="translate(527.549342 287.631579)" style="stroke: #000000; stroke-width: 0.8; stroke: #000000; stroke-width: 0.8"/>
      </g>
     </g>
     <g id="text_53">
      <text style="font-size: 10px; font-family: 'DejaVu Sans', 'Liberation Sans', sans-serif; text-anchor: middle" x="527.549342" y="302.230016" transform="rotate(-0 527.549342 302.230016)">150</text>
     </g>
    </g>
    <g id="xtick_24">
     <g id="line2d_77">
      <g>
       <path d="M 0 0 L 0 3.5" transform="translate(558.741776 287.631579)" style="stroke: #000000; stroke-width: 0.8; stroke: #000000; stroke-width: 0.8"/>
      </g>
     </g>
     <g id="text_54">
      <text style="font-size: 10px; font-family: 'DejaVu Sans', 'Liberation Sans', sans-serif; text-anchor: middle" x="558.741776" y="302.230016" transform="rotate(-0 558.741776 302.230016)">175</text>
     </g>
    </g>
    <g id="xtick_25">
     <g id="line2d_78">
      <g>
       <path d="M 0 0 L 0 3.5" transform="translate(589.934211 287.631579)" style="stroke: #000000; stroke-width: 0.8; stroke: #000000; stroke-width: 0.8"/>
      </g>
     </g>
     <g id="text_55">
      <text style="font-size: 10px; font-family: 'DejaVu Sans', 'Liberation Sans', sans-serif; text-anchor: middle" x="589.934211" y="302.230016" transform="rotate(-0 589.934211 302.230016)">200</text>
     </g>
    </g>
    <g id="text_56">
     <text style="font-size: 11.88px; font-family: 'DejaVu Sans', 'Liberation Sans', sans-serif; text-anchor: middle" x="465.164474" y="317.006648" transform="rotate(-0 465.164474 317.006648)">Relative humidity</text>
    </g>
   </g>
   <g id="matplotlib.axis_8">
    <g id="ytick_16">
     <g id="line2d_79">
      <g>
       <path d="M 0 0 L -3.5 0" transform="translate(340.394737 287.631579)" style="stroke: #000000; stroke-width: 0.8; stroke: #000000; stroke-width: 0.8"/>
      </g>
     </g>
     <g id="text_57">
      <text style="font-size: 10px; font-family: 'DejaVu Sans', 'Liberation Sans', sans-serif; text-anchor: end" x="333.394737" y="291.430798" transform="rotate(-0 333.394737 291.430798)">40</text>
     </g>
    </g>
    <g id="ytick_17">
     <g id="line2d_80">
      <g>
       <path d="M 0 0 L -3.5 0" transform="translate(340.394737 256.632401)" style="stroke: #000000; stroke-width: 0.8; stroke: #000000; stroke-width: 0.8"/>
      </g>
     </g>
     <g id="text_58">
      <text style="font-size: 10px; font-family: 'DejaVu Sans', 'Liberation Sans', sans-serif; text-anchor: end" x="333.394737" y="260.43162" transform="rotate(-0 333.394737 260.43162)">45</text>
     </g>
    </g>
    <g id="ytick_18">
     <g id="line2d_81">
      <g>
       <path d="M 0 0 L -3.5 0" transform="translate(340.394737 225.633224)" style="stroke: #000000; stroke-width: 0.8; stroke: #000000; stroke-width: 0.8"/>
      </g>
     </g>
     <g id="text_59">
      <text style="font-size: 10px; font-family: 'DejaVu Sans', 'Liberation Sans', sans-serif; text-anchor: end" x="333.394737" y="229.432442" transform="rotate(-0 333.394737 229.432442)">50</text>
     </g>
    </g>
    <g id="ytick_19">
     <g id="line2d_82">
      <g>
       <path d="M 0 0 L -3.5 0" transform="translate(340.394737 194.634046)" style="stroke: #000000; stroke-width: 0.8; stroke: #000000; stroke-width: 0.8"/>
      </g>
     </g>
     <g id="text_60">
      <text style="font-size: 10px; font-family: 'DejaVu Sans', 'Liberation Sans', sans-serif; text-anchor: end" x="333.394737" y="198.433265" transform="rotate(-0 333.394737 198.433265)">55</text>
     </g>
    </g>
    <g id="ytick_20">
     <g id="line2d_83">
      <g>
       <path d="M 0 0 L -3.5 0" transform="translate(340.394737 163.634868)" style="stroke: #000000; stroke-width: 0.8; stroke: #000000; stroke-width: 0.8"/>
      </g>
     </g>
     <g id="text_61">
      <text style="font-size: 10px; font-family: 'DejaVu Sans', 'Liberation Sans', sans-serif; text-anchor: end" x="333.394737" y="167.434087" transform="rotate(-0 333.394737 167.434087)">60</text>
     </g>
    </g>
   </g>
   <g id="line2d_84">
    <path d="M 350.164474 287.993421 
L 350.493421 287.203947 
L 353.289474 283.486842 
L 357.006579 279.375 
L 361.480263 275.263158 
L 366.315789 271.546053 
L 371.907895 268.190789 
L 377.5 265.592105 
L 383.092105 262.993421 
L 388.684211 260.756579 
L 394.276316 258.519737 
L 401.973684 255.986842 
L 409.210526 254.177632 
L 416.414474 252.039474 
L 423.651316 250.230263 
L 430.888158 248.947368 
L 438.125 247.697368 
L 445.328947 246.25 
L 452.565789 245.164474 
L 455.559211 244.473684 
L 457.631579 243.585526 
L 459.375 241.776316 
L 462.598684 239.605263 
L 465.032895 237.434211 
L 464.769737 234.177632 
L 464.342105 228.782895 
L 464.111842 223.355263 
L 464.506579 217.960526 
L 465.855263 212.532895 
L 467.203947 207.105263 
L 467.598684 202.796053 
L 467.598684 198.618421 
L 467.368421 194.210526 
L 466.710526 189.802632 
L 466.052632 185.394737 
L 465.855263 181.019737 
L 465.855263 176.151316 
L 466.710526 172.631579 
L 468.026316 169.769737 
L 519.736842 163.634868 
" clip-path="url(#pbe592a7b00)" style="fill: none; stroke: #000000; stroke-width: 2"/>
   </g>
   <g id="line2d_85">
    <path d="M 350.164474 287.993421 
L 350.493421 287.203947 
L 353.289474 283.486842 
L 357.006579 279.375 
L 361.480263 275.263158 
L 366.315789 271.546053 
L 371.907895 268.190789 
L 377.5 265.592105 
L 383.092105 262.993421 
L 388.684211 260.756579 
L 394.276316 258.519737 
L 401.973684 255.986842 
L 409.210526 254.177632 
L 416.414474 252.039474 
L 423.651316 250.230263 
L 430.888158 248.947368 
L 438.125 247.697368 
L 445.328947 246.25 
L 452.565789 245.164474 
L 455.559211 244.473684 
L 457.631579 243.585526 
L 459.375 241.776316 
L 462.598684 239.605263 
L 465.032895 237.434211 
L 464.769737 234.177632 
L 464.342105 228.782895 
L 464.111842 223.355263 
L 464.506579 217.960526 
L 465.855263 212.532895 
L 467.203947 207.105263 
L 467.598684 202.796053 
L 467.598684 198.618421 
L 467.368421 194.210526 
L 466.710526 189.802632 
L 466.052632 185.394737 
L 465.855263 181.019737 
L 465.855263 176.151316 
L 466.710526 172.631579 
L 468.026316 169.769737 
L 519.736842 163.634868 
" clip-path="url(#pbe592a7b00)" style="fill: none; stroke-dasharray: 2,2; stroke-dashoffset: 0; stroke: #ff0000; stroke-width: 2"/>
   </g>
   <g id="line2d_86">
    <path d="M 350.164474 287.993421 
L 350.493421 287.203947 
L 353.289474 283.486842 
L 357.006579 279.375 
L 361.480263 275.263158 
L 366.315789 271.546053 
L 371.907895 268.190789 
L 377.5 265.592105 
L 383.092105 262.993421 
L 388.684211 260.756579 
L 394.276316 258.519737 
L 401.973684 255.986842 
L 409.210526 254.177632 
L 416.414474 252.039474 
L 423.651316 250.230263 
L 430.888158 248.947368 
L 438.125 247.697368 
L 445.328947 246.25 
L 452.565789 245.164474 
L 455.559211 244.473684 
L 457.631579 243.585526 
L 459.375 241.776316 
L 462.598684 239.605263 
L 465.032895 237.434211 
L 464.769737 234.177632 
L 464.342105 228.782895 
L 464.111842 223.355263 
L 464.506579 217.960526 
L 465.855263 212.532895 
L 467.203947 207.105263 
L 467.598684 202.796053 
L 467.598684 198.618421 
L 467.368421 194.210526 
L 466.710526 189.802632 
L 466.052632 185.394737 
L 465.855263 181.019737 
L 465.855263 176.151316 
L 466.710526 172.631579 
L 468.026316 169.769737 
L 501.644737 163.634868 
" clip-path="url(#pbe592a7b00)" style="fill: none; stroke-dasharray: 6,2,2,2,2,2; stroke-dashoffset: 0; stroke: #0000ff; stroke-width: 2"/>
   </g>
   <g id="line2d_87">
    <path d="M 350.164474 287.993421 
L 350.493421 287.203947 
L 353.289474 283.486842 
L 357.006579 279.375 
L 361.480263 275.263158 
L 366.315789 271.546053 
L 371.907895 268.190789 
L 377.5 265.592105 
L 383.092105 262.993421 
L 388.684211 260.756579 
L 394.276316 258.519737 
L 401.973684 255.986842 
L 409.210526 254.177632 
L 416.414474 252.039474 
L 423.651316 250.230263 
L 430.888158 248.947368 
L 438.125 247.697368 
L 445.328947 246.25 
L 452.565789 245.164474 
L 455.559211 244.473684 
L 457.631579 243.585526 
L 459.375 241.776316 
L 462.598684 239.605263 
L 465.032895 237.434211 
L 464.769737 234.177632 
L 464.342105 228.782895 
L 464.111842 223.355263 
L 464.506579 217.960526 
L 465.855263 212.532895 
L 467.203947 207.105263 
L 467.598684 202.796053 
L 467.598684 198.618421 
L 467.368421 194.210526 
L 466.710526 189.802632 
L 466.052632 185.394737 
L 465.855263 181.019737 
L 465.855263 176.151316 
L 466.710526 172.631579 
L 468.026316 169.769737 
L 501.644737 163.634868 
" clip-path="url(#pbe592a7b00)" style="fill: none; stroke-dasharray: 6,2,2,2; stroke-dashoffset: 0; stroke: #008000; stroke-width: 2"/>
   </g>
   <g id="patch_21">
    <path d="M 340.394737 287.631579 
L 340.394737 163.634868 
" style="fill: none; stroke: #000000; stroke-width: 0.8; stroke-linejoin: miter; stroke-linecap: square"/>
   </g>
   <g id="patch_22">
    <path d="M 589.934211 287.631579 
L 589.934211 163.634868 
" style="fill: none; stroke: #000000; stroke-width: 0.8; stroke-linejoin: miter; stroke-linecap: square"/>
   </g>
   <g id="patch_23">
    <path d="M 340.394737 287.631579 
L 589.934211 287.631579 
" style="fill: none; stroke: #000000; stroke-width: 0.8; stroke-linejoin: miter; stroke-linecap: square"/>
   </g>
   <g id="patch_24">
    <path d="M 340.394737 163.634868 
L 589.934211 163.634868 
" style="fill: none; stroke: #000000; stroke-width: 0.8; stroke-linejoin: miter; stroke-linecap: square"/>
   </g>
  </g>
  <g id="text_62">
   <text style="font-size: 11.86px; font-family: 'DejaVu Sans', 'Liberation Sans', sans-serif" transform="translate(8.996303 190.275893) rotate(-90)">Altitude [km]</text>
  </g>
 </g>
 <defs>
  <clipPath id="pc3fd6369af">
   <rect x="40.970395" y="14.950658" width="249.555921" height="123.947368"/>
  </clipPath>
  <clipPath id="pd792279210">
   <rect x="340.394737" y="14.950658" width="249.539474" height="123.947368"/>
  </clipPath>
  <clipPath id="pb53de90a22">
   <rect x="40.970395" y="163.634868" width="249.555921" height="123.996711"/>
  </clipPath>
  <clipPath id="pbe592a7b00">
   <rect x="340.394737" y="163.634868" width="249.539474" height="123.996711"/>
  </clipPath>
 </defs>
</svg>

</body></html>
